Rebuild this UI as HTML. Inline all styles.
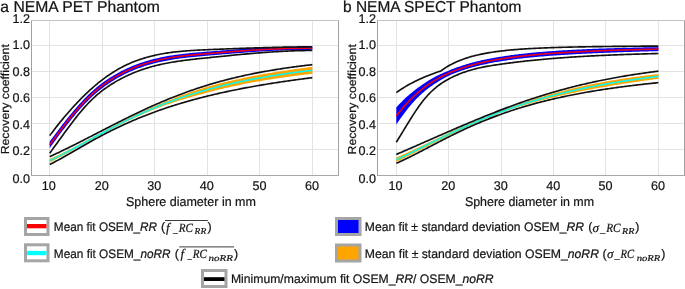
<!DOCTYPE html>
<html><head><meta charset="utf-8"><style>
html,body{margin:0;padding:0;background:#fff;}
svg{display:block;}
text{fill:#141414;text-rendering:geometricPrecision;stroke:#141414;stroke-width:0.22px;}
</style></head><body>
<svg xmlns="http://www.w3.org/2000/svg" width="685" height="289" viewBox="0 0 685 289">
<rect width="685" height="289" fill="#fff"/>
<line x1="49.5" y1="20.5" x2="49.5" y2="175.5" stroke="#e3e3e3" stroke-width="1"/>
<line x1="102.5" y1="20.5" x2="102.5" y2="175.5" stroke="#e3e3e3" stroke-width="1"/>
<line x1="154.5" y1="20.5" x2="154.5" y2="175.5" stroke="#e3e3e3" stroke-width="1"/>
<line x1="207.5" y1="20.5" x2="207.5" y2="175.5" stroke="#e3e3e3" stroke-width="1"/>
<line x1="259.5" y1="20.5" x2="259.5" y2="175.5" stroke="#e3e3e3" stroke-width="1"/>
<line x1="312.5" y1="20.5" x2="312.5" y2="175.5" stroke="#e3e3e3" stroke-width="1"/>
<line x1="31.5" y1="149.5" x2="338.5" y2="149.5" stroke="#e3e3e3" stroke-width="1"/>
<line x1="31.5" y1="123.5" x2="338.5" y2="123.5" stroke="#e3e3e3" stroke-width="1"/>
<line x1="31.5" y1="97.5" x2="338.5" y2="97.5" stroke="#e3e3e3" stroke-width="1"/>
<line x1="31.5" y1="71.5" x2="338.5" y2="71.5" stroke="#e3e3e3" stroke-width="1"/>
<line x1="31.5" y1="45.5" x2="338.5" y2="45.5" stroke="#e3e3e3" stroke-width="1"/>
<line x1="31.5" y1="20.5" x2="338.5" y2="20.5" stroke="#c4c4c4" stroke-width="1"/>
<line x1="338.5" y1="20.5" x2="338.5" y2="175.5" stroke="#a0a0a0" stroke-width="1"/>
<line x1="31.5" y1="20.5" x2="31.5" y2="176.0" stroke="#a0a0a0" stroke-width="1"/>
<line x1="31.5" y1="175.5" x2="339.0" y2="175.5" stroke="#a8a8a8" stroke-width="1"/>
<path d="M49.70,141.46 L51.01,139.70 L52.33,137.93 L53.64,136.18 L54.95,134.43 L56.27,132.68 L57.58,130.95 L58.89,129.22 L60.20,127.51 L61.52,125.80 L62.83,124.11 L64.14,122.43 L65.46,120.76 L66.77,119.11 L68.08,117.47 L69.40,115.85 L70.71,114.24 L72.02,112.66 L73.33,111.09 L74.65,109.54 L75.96,108.01 L77.27,106.51 L78.59,105.03 L79.90,103.57 L81.21,102.14 L82.53,100.73 L83.84,99.35 L85.15,97.99 L86.46,96.66 L87.78,95.37 L89.09,94.10 L90.40,92.86 L91.72,91.66 L93.03,90.48 L94.34,89.33 L95.66,88.21 L96.97,87.12 L98.28,86.06 L99.59,85.02 L100.91,84.01 L102.22,83.02 L103.53,82.06 L104.85,81.12 L106.16,80.21 L107.47,79.32 L108.78,78.45 L110.10,77.60 L111.41,76.77 L112.72,75.97 L114.04,75.18 L115.35,74.41 L116.66,73.66 L117.98,72.93 L119.29,72.22 L120.60,71.52 L121.92,70.85 L123.23,70.19 L124.54,69.54 L125.85,68.92 L127.17,68.31 L128.48,67.71 L129.79,67.13 L131.11,66.57 L132.42,66.02 L133.73,65.49 L135.05,64.97 L136.36,64.47 L137.67,63.98 L138.98,63.50 L140.30,63.04 L141.61,62.59 L142.92,62.16 L144.24,61.74 L145.55,61.33 L146.86,60.93 L148.18,60.55 L149.49,60.17 L150.80,59.81 L152.11,59.46 L153.43,59.12 L154.74,58.80 L156.05,58.48 L157.37,58.17 L158.68,57.88 L159.99,57.59 L161.31,57.31 L162.62,57.05 L163.93,56.79 L165.24,56.54 L166.56,56.30 L167.87,56.06 L169.18,55.84 L170.50,55.62 L171.81,55.41 L173.12,55.21 L174.44,55.01 L175.75,54.82 L177.06,54.64 L178.37,54.46 L179.69,54.29 L181.00,54.13 L182.31,53.97 L183.63,53.81 L184.94,53.66 L186.25,53.52 L187.56,53.38 L188.88,53.24 L190.19,53.11 L191.50,52.98 L192.82,52.85 L194.13,52.73 L195.44,52.61 L196.76,52.49 L198.07,52.37 L199.38,52.26 L200.69,52.15 L202.01,52.04 L203.32,51.93 L204.63,51.82 L205.95,51.71 L207.26,51.60 L208.57,51.49 L209.89,51.39 L211.20,51.28 L212.51,51.17 L213.82,51.07 L215.14,50.96 L216.45,50.86 L217.76,50.75 L219.08,50.65 L220.39,50.54 L221.70,50.44 L223.02,50.33 L224.33,50.23 L225.64,50.13 L226.95,50.03 L228.27,49.93 L229.58,49.83 L230.89,49.73 L232.21,49.63 L233.52,49.53 L234.83,49.44 L236.15,49.34 L237.46,49.25 L238.77,49.15 L240.08,49.06 L241.40,48.97 L242.71,48.88 L244.02,48.79 L245.34,48.70 L246.65,48.61 L247.96,48.53 L249.28,48.44 L250.59,48.36 L251.90,48.28 L253.21,48.20 L254.53,48.12 L255.84,48.05 L257.15,47.97 L258.47,47.90 L259.78,47.82 L261.09,47.75 L262.41,47.69 L263.72,47.62 L265.03,47.55 L266.34,47.49 L267.66,47.43 L268.97,47.37 L270.28,47.31 L271.60,47.26 L272.91,47.20 L274.22,47.15 L275.54,47.10 L276.85,47.06 L278.16,47.01 L279.47,46.97 L280.79,46.93 L282.10,46.89 L283.41,46.86 L284.73,46.82 L286.04,46.79 L287.35,46.76 L288.67,46.74 L289.98,46.71 L291.29,46.69 L292.61,46.67 L293.92,46.66 L295.23,46.65 L296.54,46.64 L297.86,46.63 L299.17,46.62 L300.48,46.62 L301.80,46.62 L303.11,46.63 L304.42,46.63 L305.73,46.64 L307.05,46.66 L308.36,46.67 L309.67,46.69 L310.99,46.72 L312.30,46.74 L312.30,49.88 L310.99,49.87 L309.67,49.88 L308.36,49.88 L307.05,49.88 L305.73,49.89 L304.42,49.90 L303.11,49.92 L301.80,49.93 L300.48,49.95 L299.17,49.97 L297.86,50.00 L296.54,50.02 L295.23,50.05 L293.92,50.08 L292.61,50.12 L291.29,50.15 L289.98,50.19 L288.67,50.23 L287.35,50.27 L286.04,50.32 L284.73,50.36 L283.41,50.41 L282.10,50.46 L280.79,50.52 L279.47,50.57 L278.16,50.63 L276.85,50.69 L275.54,50.75 L274.22,50.81 L272.91,50.87 L271.60,50.94 L270.28,51.01 L268.97,51.08 L267.66,51.15 L266.34,51.22 L265.03,51.30 L263.72,51.37 L262.41,51.45 L261.09,51.53 L259.78,51.61 L258.47,51.69 L257.15,51.78 L255.84,51.86 L254.53,51.95 L253.21,52.04 L251.90,52.13 L250.59,52.22 L249.28,52.31 L247.96,52.40 L246.65,52.49 L245.34,52.59 L244.02,52.69 L242.71,52.78 L241.40,52.88 L240.08,52.98 L238.77,53.08 L237.46,53.18 L236.15,53.29 L234.83,53.39 L233.52,53.49 L232.21,53.60 L230.89,53.70 L229.58,53.81 L228.27,53.92 L226.95,54.02 L225.64,54.13 L224.33,54.24 L223.02,54.35 L221.70,54.46 L220.39,54.57 L219.08,54.68 L217.76,54.79 L216.45,54.91 L215.14,55.02 L213.82,55.13 L212.51,55.24 L211.20,55.36 L209.89,55.47 L208.57,55.58 L207.26,55.70 L205.95,55.81 L204.63,55.93 L203.32,56.04 L202.01,56.16 L200.69,56.28 L199.38,56.40 L198.07,56.52 L196.76,56.64 L195.44,56.76 L194.13,56.89 L192.82,57.02 L191.50,57.16 L190.19,57.29 L188.88,57.43 L187.56,57.58 L186.25,57.73 L184.94,57.88 L183.63,58.04 L182.31,58.20 L181.00,58.37 L179.69,58.54 L178.37,58.72 L177.06,58.90 L175.75,59.10 L174.44,59.29 L173.12,59.50 L171.81,59.71 L170.50,59.93 L169.18,60.16 L167.87,60.39 L166.56,60.64 L165.24,60.89 L163.93,61.15 L162.62,61.42 L161.31,61.70 L159.99,61.98 L158.68,62.28 L157.37,62.59 L156.05,62.91 L154.74,63.24 L153.43,63.58 L152.11,63.93 L150.80,64.29 L149.49,64.66 L148.18,65.05 L146.86,65.45 L145.55,65.86 L144.24,66.28 L142.92,66.72 L141.61,67.17 L140.30,67.63 L138.98,68.11 L137.67,68.60 L136.36,69.10 L135.05,69.62 L133.73,70.16 L132.42,70.71 L131.11,71.27 L129.79,71.85 L128.48,72.45 L127.17,73.06 L125.85,73.69 L124.54,74.34 L123.23,75.00 L121.92,75.68 L120.60,76.38 L119.29,77.10 L117.98,77.83 L116.66,78.59 L115.35,79.36 L114.04,80.15 L112.72,80.96 L111.41,81.79 L110.10,82.64 L108.78,83.51 L107.47,84.40 L106.16,85.32 L104.85,86.26 L103.53,87.22 L102.22,88.21 L100.91,89.22 L99.59,90.26 L98.28,91.33 L96.97,92.42 L95.66,93.54 L94.34,94.69 L93.03,95.87 L91.72,97.08 L90.40,98.31 L89.09,99.58 L87.78,100.88 L86.46,102.21 L85.15,103.57 L83.84,104.96 L82.53,106.38 L81.21,107.82 L79.90,109.29 L78.59,110.79 L77.27,112.31 L75.96,113.85 L74.65,115.41 L73.33,117.00 L72.02,118.61 L70.71,120.23 L69.40,121.88 L68.08,123.54 L66.77,125.22 L65.46,126.91 L64.14,128.63 L62.83,130.35 L61.52,132.09 L60.20,133.84 L58.89,135.60 L57.58,137.37 L56.27,139.16 L54.95,140.95 L53.64,142.75 L52.33,144.55 L51.01,146.36 L49.70,148.18Z" fill="#0000ff"/>
<path d="M49.70,158.92 L51.01,158.35 L52.33,157.76 L53.64,157.17 L54.95,156.57 L56.27,155.96 L57.58,155.35 L58.89,154.73 L60.20,154.10 L61.52,153.46 L62.83,152.82 L64.14,152.18 L65.46,151.52 L66.77,150.87 L68.08,150.20 L69.40,149.54 L70.71,148.86 L72.02,148.19 L73.33,147.51 L74.65,146.83 L75.96,146.14 L77.27,145.45 L78.59,144.76 L79.90,144.06 L81.21,143.37 L82.53,142.67 L83.84,141.97 L85.15,141.26 L86.46,140.56 L87.78,139.85 L89.09,139.15 L90.40,138.44 L91.72,137.73 L93.03,137.03 L94.34,136.32 L95.66,135.61 L96.97,134.90 L98.28,134.19 L99.59,133.49 L100.91,132.78 L102.22,132.07 L103.53,131.37 L104.85,130.67 L106.16,129.96 L107.47,129.26 L108.78,128.57 L110.10,127.87 L111.41,127.18 L112.72,126.48 L114.04,125.80 L115.35,125.11 L116.66,124.42 L117.98,123.74 L119.29,123.07 L120.60,122.39 L121.92,121.72 L123.23,121.05 L124.54,120.39 L125.85,119.72 L127.17,119.07 L128.48,118.41 L129.79,117.76 L131.11,117.12 L132.42,116.47 L133.73,115.84 L135.05,115.20 L136.36,114.57 L137.67,113.95 L138.98,113.32 L140.30,112.71 L141.61,112.10 L142.92,111.49 L144.24,110.89 L145.55,110.29 L146.86,109.69 L148.18,109.10 L149.49,108.52 L150.80,107.94 L152.11,107.37 L153.43,106.80 L154.74,106.23 L156.05,105.67 L157.37,105.11 L158.68,104.55 L159.99,104.00 L161.31,103.45 L162.62,102.90 L163.93,102.35 L165.24,101.81 L166.56,101.27 L167.87,100.73 L169.18,100.20 L170.50,99.67 L171.81,99.15 L173.12,98.63 L174.44,98.11 L175.75,97.60 L177.06,97.09 L178.37,96.58 L179.69,96.08 L181.00,95.59 L182.31,95.10 L183.63,94.61 L184.94,94.13 L186.25,93.65 L187.56,93.18 L188.88,92.72 L190.19,92.26 L191.50,91.80 L192.82,91.35 L194.13,90.91 L195.44,90.47 L196.76,90.04 L198.07,89.62 L199.38,89.20 L200.69,88.79 L202.01,88.38 L203.32,87.98 L204.63,87.59 L205.95,87.20 L207.26,86.82 L208.57,86.45 L209.89,86.08 L211.20,85.72 L212.51,85.36 L213.82,85.00 L215.14,84.65 L216.45,84.30 L217.76,83.96 L219.08,83.62 L220.39,83.28 L221.70,82.95 L223.02,82.62 L224.33,82.30 L225.64,81.97 L226.95,81.66 L228.27,81.34 L229.58,81.03 L230.89,80.73 L232.21,80.42 L233.52,80.12 L234.83,79.83 L236.15,79.53 L237.46,79.24 L238.77,78.96 L240.08,78.67 L241.40,78.39 L242.71,78.11 L244.02,77.84 L245.34,77.57 L246.65,77.30 L247.96,77.03 L249.28,76.77 L250.59,76.51 L251.90,76.25 L253.21,75.99 L254.53,75.74 L255.84,75.49 L257.15,75.24 L258.47,75.00 L259.78,74.75 L261.09,74.51 L262.41,74.27 L263.72,74.04 L265.03,73.80 L266.34,73.57 L267.66,73.34 L268.97,73.12 L270.28,72.89 L271.60,72.67 L272.91,72.45 L274.22,72.24 L275.54,72.02 L276.85,71.81 L278.16,71.60 L279.47,71.39 L280.79,71.18 L282.10,70.98 L283.41,70.78 L284.73,70.58 L286.04,70.38 L287.35,70.18 L288.67,69.99 L289.98,69.80 L291.29,69.61 L292.61,69.42 L293.92,69.23 L295.23,69.05 L296.54,68.87 L297.86,68.69 L299.17,68.51 L300.48,68.33 L301.80,68.15 L303.11,67.98 L304.42,67.81 L305.73,67.64 L307.05,67.47 L308.36,67.30 L309.67,67.14 L310.99,66.97 L312.30,66.81 L312.30,73.81 L310.99,73.96 L309.67,74.11 L308.36,74.26 L307.05,74.41 L305.73,74.56 L304.42,74.72 L303.11,74.88 L301.80,75.03 L300.48,75.19 L299.17,75.36 L297.86,75.52 L296.54,75.69 L295.23,75.85 L293.92,76.02 L292.61,76.19 L291.29,76.37 L289.98,76.54 L288.67,76.72 L287.35,76.90 L286.04,77.08 L284.73,77.26 L283.41,77.45 L282.10,77.63 L280.79,77.82 L279.47,78.01 L278.16,78.21 L276.85,78.40 L275.54,78.60 L274.22,78.80 L272.91,79.00 L271.60,79.21 L270.28,79.41 L268.97,79.62 L267.66,79.83 L266.34,80.05 L265.03,80.26 L263.72,80.48 L262.41,80.70 L261.09,80.93 L259.78,81.15 L258.47,81.38 L257.15,81.61 L255.84,81.85 L254.53,82.08 L253.21,82.32 L251.90,82.57 L250.59,82.81 L249.28,83.06 L247.96,83.31 L246.65,83.57 L245.34,83.82 L244.02,84.08 L242.71,84.35 L241.40,84.61 L240.08,84.88 L238.77,85.15 L237.46,85.43 L236.15,85.71 L234.83,85.99 L233.52,86.27 L232.21,86.56 L230.89,86.85 L229.58,87.14 L228.27,87.44 L226.95,87.74 L225.64,88.04 L224.33,88.35 L223.02,88.66 L221.70,88.97 L220.39,89.29 L219.08,89.60 L217.76,89.93 L216.45,90.25 L215.14,90.58 L213.82,90.91 L212.51,91.25 L211.20,91.59 L209.89,91.93 L208.57,92.28 L207.26,92.62 L205.95,92.98 L204.63,93.33 L203.32,93.68 L202.01,94.04 L200.69,94.39 L199.38,94.75 L198.07,95.11 L196.76,95.47 L195.44,95.84 L194.13,96.20 L192.82,96.57 L191.50,96.95 L190.19,97.32 L188.88,97.70 L187.56,98.08 L186.25,98.47 L184.94,98.86 L183.63,99.25 L182.31,99.65 L181.00,100.05 L179.69,100.45 L178.37,100.86 L177.06,101.28 L175.75,101.70 L174.44,102.12 L173.12,102.55 L171.81,102.99 L170.50,103.43 L169.18,103.88 L167.87,104.33 L166.56,104.79 L165.24,105.26 L163.93,105.73 L162.62,106.21 L161.31,106.70 L159.99,107.19 L158.68,107.69 L157.37,108.19 L156.05,108.71 L154.74,109.23 L153.43,109.76 L152.11,110.29 L150.80,110.83 L149.49,111.37 L148.18,111.92 L146.86,112.47 L145.55,113.03 L144.24,113.59 L142.92,114.16 L141.61,114.73 L140.30,115.31 L138.98,115.89 L137.67,116.48 L136.36,117.07 L135.05,117.67 L133.73,118.27 L132.42,118.88 L131.11,119.49 L129.79,120.11 L128.48,120.73 L127.17,121.35 L125.85,121.98 L124.54,122.62 L123.23,123.26 L121.92,123.91 L120.60,124.55 L119.29,125.21 L117.98,125.87 L116.66,126.53 L115.35,127.20 L114.04,127.87 L112.72,128.54 L111.41,129.22 L110.10,129.90 L108.78,130.59 L107.47,131.28 L106.16,131.97 L104.85,132.67 L103.53,133.37 L102.22,134.07 L100.91,134.78 L99.59,135.49 L98.28,136.20 L96.97,136.92 L95.66,137.64 L94.34,138.36 L93.03,139.08 L91.72,139.80 L90.40,140.53 L89.09,141.25 L87.78,141.98 L86.46,142.71 L85.15,143.44 L83.84,144.17 L82.53,144.90 L81.21,145.63 L79.90,146.36 L78.59,147.09 L77.27,147.82 L75.96,148.55 L74.65,149.27 L73.33,150.00 L72.02,150.72 L70.71,151.44 L69.40,152.16 L68.08,152.87 L66.77,153.59 L65.46,154.29 L64.14,155.00 L62.83,155.70 L61.52,156.40 L60.20,157.09 L58.89,157.78 L57.58,158.46 L56.27,159.14 L54.95,159.81 L53.64,160.47 L52.33,161.13 L51.01,161.78 L49.70,162.42Z" fill="#ffa500"/>
<path d="M49.70,144.82 L51.01,143.03 L52.33,141.24 L53.64,139.46 L54.95,137.69 L56.27,135.92 L57.58,134.16 L58.89,132.41 L60.20,130.67 L61.52,128.95 L62.83,127.23 L64.14,125.53 L65.46,123.84 L66.77,122.16 L68.08,120.50 L69.40,118.86 L70.71,117.24 L72.02,115.63 L73.33,114.04 L74.65,112.48 L75.96,110.93 L77.27,109.41 L78.59,107.91 L79.90,106.43 L81.21,104.98 L82.53,103.55 L83.84,102.15 L85.15,100.78 L86.46,99.44 L87.78,98.13 L89.09,96.84 L90.40,95.59 L91.72,94.37 L93.03,93.17 L94.34,92.01 L95.66,90.88 L96.97,89.77 L98.28,88.69 L99.59,87.64 L100.91,86.62 L102.22,85.62 L103.53,84.64 L104.85,83.69 L106.16,82.76 L107.47,81.86 L108.78,80.98 L110.10,80.12 L111.41,79.28 L112.72,78.46 L114.04,77.66 L115.35,76.88 L116.66,76.12 L117.98,75.38 L119.29,74.66 L120.60,73.95 L121.92,73.27 L123.23,72.60 L124.54,71.94 L125.85,71.30 L127.17,70.68 L128.48,70.08 L129.79,69.49 L131.11,68.92 L132.42,68.36 L133.73,67.82 L135.05,67.30 L136.36,66.78 L137.67,66.29 L138.98,65.80 L140.30,65.34 L141.61,64.88 L142.92,64.44 L144.24,64.01 L145.55,63.59 L146.86,63.19 L148.18,62.80 L149.49,62.42 L150.80,62.05 L152.11,61.70 L153.43,61.35 L154.74,61.02 L156.05,60.69 L157.37,60.38 L158.68,60.08 L159.99,59.79 L161.31,59.50 L162.62,59.23 L163.93,58.97 L165.24,58.71 L166.56,58.47 L167.87,58.23 L169.18,58.00 L170.50,57.78 L171.81,57.56 L173.12,57.35 L174.44,57.15 L175.75,56.96 L177.06,56.77 L178.37,56.59 L179.69,56.42 L181.00,56.25 L182.31,56.08 L183.63,55.92 L184.94,55.77 L186.25,55.62 L187.56,55.48 L188.88,55.34 L190.19,55.20 L191.50,55.07 L192.82,54.94 L194.13,54.81 L195.44,54.68 L196.76,54.56 L198.07,54.44 L199.38,54.33 L200.69,54.21 L202.01,54.10 L203.32,53.98 L204.63,53.87 L205.95,53.76 L207.26,53.65 L208.57,53.54 L209.89,53.43 L211.20,53.32 L212.51,53.21 L213.82,53.10 L215.14,52.99 L216.45,52.88 L217.76,52.77 L219.08,52.66 L220.39,52.56 L221.70,52.45 L223.02,52.34 L224.33,52.24 L225.64,52.13 L226.95,52.03 L228.27,51.92 L229.58,51.82 L230.89,51.72 L232.21,51.61 L233.52,51.51 L234.83,51.41 L236.15,51.31 L237.46,51.21 L238.77,51.12 L240.08,51.02 L241.40,50.92 L242.71,50.83 L244.02,50.74 L245.34,50.65 L246.65,50.55 L247.96,50.46 L249.28,50.38 L250.59,50.29 L251.90,50.20 L253.21,50.12 L254.53,50.04 L255.84,49.95 L257.15,49.87 L258.47,49.80 L259.78,49.72 L261.09,49.64 L262.41,49.57 L263.72,49.50 L265.03,49.43 L266.34,49.36 L267.66,49.29 L268.97,49.22 L270.28,49.16 L271.60,49.10 L272.91,49.04 L274.22,48.98 L275.54,48.93 L276.85,48.87 L278.16,48.82 L279.47,48.77 L280.79,48.72 L282.10,48.68 L283.41,48.63 L284.73,48.59 L286.04,48.55 L287.35,48.52 L288.67,48.48 L289.98,48.45 L291.29,48.42 L292.61,48.40 L293.92,48.37 L295.23,48.35 L296.54,48.33 L297.86,48.31 L299.17,48.30 L300.48,48.29 L301.80,48.28 L303.11,48.27 L304.42,48.27 L305.73,48.27 L307.05,48.27 L308.36,48.28 L309.67,48.28 L310.99,48.30 L312.30,48.31" fill="none" stroke="#ff0000" stroke-width="1.65" stroke-opacity="0.9"/>
<path d="M49.70,160.67 L51.01,160.06 L52.33,159.45 L53.64,158.82 L54.95,158.19 L56.27,157.55 L57.58,156.90 L58.89,156.25 L60.20,155.59 L61.52,154.93 L62.83,154.26 L64.14,153.59 L65.46,152.91 L66.77,152.23 L68.08,151.54 L69.40,150.85 L70.71,150.15 L72.02,149.45 L73.33,148.75 L74.65,148.05 L75.96,147.34 L77.27,146.63 L78.59,145.92 L79.90,145.21 L81.21,144.50 L82.53,143.78 L83.84,143.07 L85.15,142.35 L86.46,141.63 L87.78,140.92 L89.09,140.20 L90.40,139.48 L91.72,138.77 L93.03,138.05 L94.34,137.34 L95.66,136.62 L96.97,135.91 L98.28,135.20 L99.59,134.49 L100.91,133.78 L102.22,133.07 L103.53,132.37 L104.85,131.67 L106.16,130.97 L107.47,130.27 L108.78,129.58 L110.10,128.89 L111.41,128.20 L112.72,127.51 L114.04,126.83 L115.35,126.15 L116.66,125.48 L117.98,124.80 L119.29,124.14 L120.60,123.47 L121.92,122.81 L123.23,122.16 L124.54,121.50 L125.85,120.85 L127.17,120.21 L128.48,119.57 L129.79,118.93 L131.11,118.30 L132.42,117.68 L133.73,117.05 L135.05,116.43 L136.36,115.82 L137.67,115.21 L138.98,114.61 L140.30,114.01 L141.61,113.41 L142.92,112.82 L144.24,112.24 L145.55,111.66 L146.86,111.08 L148.18,110.51 L149.49,109.95 L150.80,109.38 L152.11,108.83 L153.43,108.28 L154.74,107.73 L156.05,107.19 L157.37,106.65 L158.68,106.12 L159.99,105.59 L161.31,105.07 L162.62,104.55 L163.93,104.04 L165.24,103.53 L166.56,103.03 L167.87,102.53 L169.18,102.04 L170.50,101.55 L171.81,101.07 L173.12,100.59 L174.44,100.12 L175.75,99.65 L177.06,99.18 L178.37,98.72 L179.69,98.27 L181.00,97.82 L182.31,97.37 L183.63,96.93 L184.94,96.49 L186.25,96.06 L187.56,95.63 L188.88,95.21 L190.19,94.79 L191.50,94.37 L192.82,93.96 L194.13,93.56 L195.44,93.16 L196.76,92.76 L198.07,92.36 L199.38,91.97 L200.69,91.59 L202.01,91.21 L203.32,90.83 L204.63,90.46 L205.95,90.09 L207.26,89.72 L208.57,89.36 L209.89,89.01 L211.20,88.65 L212.51,88.30 L213.82,87.96 L215.14,87.62 L216.45,87.28 L217.76,86.94 L219.08,86.61 L220.39,86.28 L221.70,85.96 L223.02,85.64 L224.33,85.32 L225.64,85.01 L226.95,84.70 L228.27,84.39 L229.58,84.09 L230.89,83.79 L232.21,83.49 L233.52,83.20 L234.83,82.91 L236.15,82.62 L237.46,82.34 L238.77,82.05 L240.08,81.78 L241.40,81.50 L242.71,81.23 L244.02,80.96 L245.34,80.69 L246.65,80.43 L247.96,80.17 L249.28,79.91 L250.59,79.66 L251.90,79.41 L253.21,79.16 L254.53,78.91 L255.84,78.67 L257.15,78.43 L258.47,78.19 L259.78,77.95 L261.09,77.72 L262.41,77.49 L263.72,77.26 L265.03,77.03 L266.34,76.81 L267.66,76.59 L268.97,76.37 L270.28,76.15 L271.60,75.94 L272.91,75.73 L274.22,75.52 L275.54,75.31 L276.85,75.11 L278.16,74.90 L279.47,74.70 L280.79,74.50 L282.10,74.31 L283.41,74.11 L284.73,73.92 L286.04,73.73 L287.35,73.54 L288.67,73.35 L289.98,73.17 L291.29,72.99 L292.61,72.81 L293.92,72.63 L295.23,72.45 L296.54,72.28 L297.86,72.10 L299.17,71.93 L300.48,71.76 L301.80,71.59 L303.11,71.43 L304.42,71.26 L305.73,71.10 L307.05,70.94 L308.36,70.78 L309.67,70.62 L310.99,70.47 L312.30,70.31" fill="none" stroke="#14f5e6" stroke-width="1.7"/>
<path d="M49.70,135.62 L51.01,133.87 L52.33,132.13 L53.64,130.42 L54.95,128.72 L56.27,127.03 L57.58,125.37 L58.89,123.72 L60.20,122.09 L61.52,120.48 L62.83,118.89 L64.14,117.31 L65.46,115.76 L66.77,114.22 L68.08,112.70 L69.40,111.19 L70.71,109.71 L72.02,108.24 L73.33,106.80 L74.65,105.37 L75.96,103.96 L77.27,102.57 L78.59,101.20 L79.90,99.84 L81.21,98.51 L82.53,97.20 L83.84,95.90 L85.15,94.63 L86.46,93.37 L87.78,92.13 L89.09,90.92 L90.40,89.72 L91.72,88.54 L93.03,87.39 L94.34,86.25 L95.66,85.13 L96.97,84.04 L98.28,82.96 L99.59,81.91 L100.91,80.87 L102.22,79.86 L103.53,78.87 L104.85,77.89 L106.16,76.94 L107.47,76.01 L108.78,75.10 L110.10,74.21 L111.41,73.35 L112.72,72.50 L114.04,71.68 L115.35,70.87 L116.66,70.09 L117.98,69.33 L119.29,68.59 L120.60,67.88 L121.92,67.18 L123.23,66.50 L124.54,65.84 L125.85,65.20 L127.17,64.58 L128.48,63.98 L129.79,63.40 L131.11,62.83 L132.42,62.28 L133.73,61.75 L135.05,61.24 L136.36,60.74 L137.67,60.26 L138.98,59.80 L140.30,59.35 L141.61,58.91 L142.92,58.49 L144.24,58.09 L145.55,57.70 L146.86,57.32 L148.18,56.96 L149.49,56.61 L150.80,56.27 L152.11,55.94 L153.43,55.63 L154.74,55.33 L156.05,55.04 L157.37,54.76 L158.68,54.49 L159.99,54.24 L161.31,53.99 L162.62,53.75 L163.93,53.53 L165.24,53.31 L166.56,53.10 L167.87,52.90 L169.18,52.71 L170.50,52.53 L171.81,52.36 L173.12,52.19 L174.44,52.03 L175.75,51.88 L177.06,51.73 L178.37,51.60 L179.69,51.47 L181.00,51.34 L182.31,51.22 L183.63,51.11 L184.94,51.00 L186.25,50.90 L187.56,50.80 L188.88,50.71 L190.19,50.62 L191.50,50.53 L192.82,50.45 L194.13,50.37 L195.44,50.30 L196.76,50.23 L198.07,50.16 L199.38,50.09 L200.69,50.03 L202.01,49.96 L203.32,49.90 L204.63,49.84 L205.95,49.78 L207.26,49.72 L208.57,49.67 L209.89,49.61 L211.20,49.55 L212.51,49.49 L213.82,49.44 L215.14,49.38 L216.45,49.33 L217.76,49.27 L219.08,49.22 L220.39,49.16 L221.70,49.11 L223.02,49.06 L224.33,49.00 L225.64,48.95 L226.95,48.90 L228.27,48.85 L229.58,48.80 L230.89,48.75 L232.21,48.70 L233.52,48.65 L234.83,48.60 L236.15,48.55 L237.46,48.50 L238.77,48.46 L240.08,48.41 L241.40,48.36 L242.71,48.32 L244.02,48.27 L245.34,48.23 L246.65,48.18 L247.96,48.14 L249.28,48.10 L250.59,48.06 L251.90,48.01 L253.21,47.97 L254.53,47.93 L255.84,47.89 L257.15,47.85 L258.47,47.81 L259.78,47.78 L261.09,47.74 L262.41,47.70 L263.72,47.66 L265.03,47.63 L266.34,47.59 L267.66,47.56 L268.97,47.52 L270.28,47.49 L271.60,47.46 L272.91,47.43 L274.22,47.39 L275.54,47.36 L276.85,47.33 L278.16,47.30 L279.47,47.27 L280.79,47.25 L282.10,47.22 L283.41,47.19 L284.73,47.17 L286.04,47.14 L287.35,47.12 L288.67,47.09 L289.98,47.07 L291.29,47.04 L292.61,47.02 L293.92,47.00 L295.23,46.98 L296.54,46.96 L297.86,46.94 L299.17,46.92 L300.48,46.90 L301.80,46.89 L303.11,46.87 L304.42,46.85 L305.73,46.84 L307.05,46.83 L308.36,46.81 L309.67,46.80 L310.99,46.79 L312.30,46.78" fill="none" stroke="#111" stroke-width="1.65"/>
<path d="M49.70,153.21 L51.01,151.43 L52.33,149.63 L53.64,147.83 L54.95,146.03 L56.27,144.22 L57.58,142.40 L58.89,140.58 L60.20,138.77 L61.52,136.95 L62.83,135.15 L64.14,133.34 L65.46,131.54 L66.77,129.76 L68.08,127.98 L69.40,126.21 L70.71,124.46 L72.02,122.73 L73.33,121.01 L74.65,119.31 L75.96,117.63 L77.27,115.98 L78.59,114.35 L79.90,112.75 L81.21,111.17 L82.53,109.62 L83.84,108.11 L85.15,106.63 L86.46,105.18 L87.78,103.77 L89.09,102.40 L90.40,101.07 L91.72,99.77 L93.03,98.52 L94.34,97.30 L95.66,96.11 L96.97,94.96 L98.28,93.85 L99.59,92.77 L100.91,91.71 L102.22,90.69 L103.53,89.70 L104.85,88.74 L106.16,87.80 L107.47,86.89 L108.78,86.00 L110.10,85.14 L111.41,84.30 L112.72,83.48 L114.04,82.68 L115.35,81.90 L116.66,81.14 L117.98,80.40 L119.29,79.68 L120.60,78.97 L121.92,78.28 L123.23,77.61 L124.54,76.95 L125.85,76.31 L127.17,75.69 L128.48,75.08 L129.79,74.49 L131.11,73.91 L132.42,73.35 L133.73,72.81 L135.05,72.27 L136.36,71.76 L137.67,71.25 L138.98,70.76 L140.30,70.29 L141.61,69.83 L142.92,69.38 L144.24,68.94 L145.55,68.52 L146.86,68.10 L148.18,67.70 L149.49,67.32 L150.80,66.94 L152.11,66.57 L153.43,66.22 L154.74,65.88 L156.05,65.54 L157.37,65.22 L158.68,64.91 L159.99,64.60 L161.31,64.31 L162.62,64.02 L163.93,63.74 L165.24,63.48 L166.56,63.22 L167.87,62.97 L169.18,62.72 L170.50,62.48 L171.81,62.26 L173.12,62.03 L174.44,61.82 L175.75,61.61 L177.06,61.40 L178.37,61.21 L179.69,61.02 L181.00,60.83 L182.31,60.65 L183.63,60.47 L184.94,60.30 L186.25,60.13 L187.56,59.97 L188.88,59.81 L190.19,59.66 L191.50,59.50 L192.82,59.35 L194.13,59.21 L195.44,59.06 L196.76,58.92 L198.07,58.78 L199.38,58.64 L200.69,58.50 L202.01,58.37 L203.32,58.23 L204.63,58.10 L205.95,57.96 L207.26,57.83 L208.57,57.70 L209.89,57.56 L211.20,57.43 L212.51,57.29 L213.82,57.16 L215.14,57.02 L216.45,56.89 L217.76,56.76 L219.08,56.62 L220.39,56.49 L221.70,56.35 L223.02,56.22 L224.33,56.09 L225.64,55.96 L226.95,55.83 L228.27,55.69 L229.58,55.56 L230.89,55.43 L232.21,55.30 L233.52,55.18 L234.83,55.05 L236.15,54.92 L237.46,54.79 L238.77,54.67 L240.08,54.54 L241.40,54.42 L242.71,54.30 L244.02,54.18 L245.34,54.06 L246.65,53.94 L247.96,53.82 L249.28,53.70 L250.59,53.59 L251.90,53.48 L253.21,53.36 L254.53,53.25 L255.84,53.14 L257.15,53.03 L258.47,52.93 L259.78,52.82 L261.09,52.72 L262.41,52.62 L263.72,52.52 L265.03,52.42 L266.34,52.33 L267.66,52.23 L268.97,52.14 L270.28,52.05 L271.60,51.96 L272.91,51.88 L274.22,51.79 L275.54,51.71 L276.85,51.63 L278.16,51.56 L279.47,51.48 L280.79,51.41 L282.10,51.34 L283.41,51.27 L284.73,51.21 L286.04,51.14 L287.35,51.09 L288.67,51.03 L289.98,50.97 L291.29,50.92 L292.61,50.87 L293.92,50.83 L295.23,50.78 L296.54,50.74 L297.86,50.71 L299.17,50.67 L300.48,50.64 L301.80,50.61 L303.11,50.59 L304.42,50.57 L305.73,50.55 L307.05,50.54 L308.36,50.52 L309.67,50.52 L310.99,50.51 L312.30,50.51" fill="none" stroke="#111" stroke-width="1.65"/>
<path d="M49.70,156.68 L51.01,156.08 L52.33,155.47 L53.64,154.86 L54.95,154.24 L56.27,153.62 L57.58,153.00 L58.89,152.38 L60.20,151.75 L61.52,151.11 L62.83,150.48 L64.14,149.84 L65.46,149.20 L66.77,148.55 L68.08,147.91 L69.40,147.26 L70.71,146.61 L72.02,145.95 L73.33,145.29 L74.65,144.64 L75.96,143.97 L77.27,143.31 L78.59,142.65 L79.90,141.98 L81.21,141.31 L82.53,140.65 L83.84,139.98 L85.15,139.30 L86.46,138.63 L87.78,137.96 L89.09,137.28 L90.40,136.61 L91.72,135.93 L93.03,135.26 L94.34,134.58 L95.66,133.91 L96.97,133.23 L98.28,132.55 L99.59,131.88 L100.91,131.20 L102.22,130.52 L103.53,129.85 L104.85,129.17 L106.16,128.50 L107.47,127.82 L108.78,127.15 L110.10,126.48 L111.41,125.81 L112.72,125.14 L114.04,124.47 L115.35,123.80 L116.66,123.14 L117.98,122.47 L119.29,121.81 L120.60,121.15 L121.92,120.49 L123.23,119.84 L124.54,119.18 L125.85,118.53 L127.17,117.88 L128.48,117.23 L129.79,116.59 L131.11,115.95 L132.42,115.31 L133.73,114.67 L135.05,114.04 L136.36,113.41 L137.67,112.78 L138.98,112.15 L140.30,111.53 L141.61,110.91 L142.92,110.30 L144.24,109.69 L145.55,109.08 L146.86,108.47 L148.18,107.87 L149.49,107.28 L150.80,106.68 L152.11,106.09 L153.43,105.51 L154.74,104.92 L156.05,104.35 L157.37,103.77 L158.68,103.20 L159.99,102.64 L161.31,102.07 L162.62,101.52 L163.93,100.96 L165.24,100.41 L166.56,99.87 L167.87,99.33 L169.18,98.79 L170.50,98.26 L171.81,97.73 L173.12,97.21 L174.44,96.69 L175.75,96.18 L177.06,95.67 L178.37,95.16 L179.69,94.66 L181.00,94.17 L182.31,93.67 L183.63,93.19 L184.94,92.71 L186.25,92.23 L187.56,91.76 L188.88,91.29 L190.19,90.82 L191.50,90.36 L192.82,89.91 L194.13,89.46 L195.44,89.01 L196.76,88.57 L198.07,88.14 L199.38,87.70 L200.69,87.28 L202.01,86.86 L203.32,86.44 L204.63,86.02 L205.95,85.61 L207.26,85.21 L208.57,84.81 L209.89,84.41 L211.20,84.02 L212.51,83.64 L213.82,83.25 L215.14,82.87 L216.45,82.50 L217.76,82.13 L219.08,81.77 L220.39,81.40 L221.70,81.05 L223.02,80.69 L224.33,80.35 L225.64,80.00 L226.95,79.66 L228.27,79.33 L229.58,78.99 L230.89,78.66 L232.21,78.34 L233.52,78.02 L234.83,77.70 L236.15,77.39 L237.46,77.08 L238.77,76.78 L240.08,76.48 L241.40,76.18 L242.71,75.88 L244.02,75.59 L245.34,75.31 L246.65,75.03 L247.96,74.75 L249.28,74.47 L250.59,74.20 L251.90,73.93 L253.21,73.66 L254.53,73.40 L255.84,73.14 L257.15,72.89 L258.47,72.63 L259.78,72.39 L261.09,72.14 L262.41,71.90 L263.72,71.66 L265.03,71.42 L266.34,71.19 L267.66,70.96 L268.97,70.73 L270.28,70.51 L271.60,70.28 L272.91,70.07 L274.22,69.85 L275.54,69.64 L276.85,69.43 L278.16,69.22 L279.47,69.01 L280.79,68.81 L282.10,68.61 L283.41,68.42 L284.73,68.22 L286.04,68.03 L287.35,67.84 L288.67,67.65 L289.98,67.47 L291.29,67.29 L292.61,67.11 L293.92,66.93 L295.23,66.75 L296.54,66.58 L297.86,66.41 L299.17,66.24 L300.48,66.08 L301.80,65.91 L303.11,65.75 L304.42,65.59 L305.73,65.44 L307.05,65.28 L308.36,65.13 L309.67,64.98 L310.99,64.83 L312.30,64.68" fill="none" stroke="#111" stroke-width="1.65"/>
<path d="M49.70,164.49 L51.01,163.83 L52.33,163.16 L53.64,162.48 L54.95,161.79 L56.27,161.09 L57.58,160.38 L58.89,159.66 L60.20,158.94 L61.52,158.21 L62.83,157.47 L64.14,156.73 L65.46,155.99 L66.77,155.24 L68.08,154.49 L69.40,153.74 L70.71,152.98 L72.02,152.22 L73.33,151.47 L74.65,150.71 L75.96,149.95 L77.27,149.19 L78.59,148.44 L79.90,147.68 L81.21,146.93 L82.53,146.18 L83.84,145.43 L85.15,144.68 L86.46,143.94 L87.78,143.20 L89.09,142.46 L90.40,141.73 L91.72,141.00 L93.03,140.27 L94.34,139.55 L95.66,138.83 L96.97,138.12 L98.28,137.41 L99.59,136.71 L100.91,136.01 L102.22,135.32 L103.53,134.63 L104.85,133.94 L106.16,133.26 L107.47,132.59 L108.78,131.92 L110.10,131.26 L111.41,130.60 L112.72,129.95 L114.04,129.30 L115.35,128.66 L116.66,128.03 L117.98,127.40 L119.29,126.77 L120.60,126.15 L121.92,125.54 L123.23,124.93 L124.54,124.33 L125.85,123.74 L127.17,123.14 L128.48,122.56 L129.79,121.98 L131.11,121.40 L132.42,120.83 L133.73,120.27 L135.05,119.71 L136.36,119.16 L137.67,118.61 L138.98,118.07 L140.30,117.53 L141.61,117.00 L142.92,116.47 L144.24,115.95 L145.55,115.44 L146.86,114.93 L148.18,114.42 L149.49,113.92 L150.80,113.42 L152.11,112.93 L153.43,112.44 L154.74,111.96 L156.05,111.49 L157.37,111.01 L158.68,110.55 L159.99,110.08 L161.31,109.62 L162.62,109.17 L163.93,108.72 L165.24,108.28 L166.56,107.84 L167.87,107.40 L169.18,106.97 L170.50,106.54 L171.81,106.12 L173.12,105.70 L174.44,105.29 L175.75,104.88 L177.06,104.47 L178.37,104.07 L179.69,103.67 L181.00,103.27 L182.31,102.88 L183.63,102.50 L184.94,102.11 L186.25,101.73 L187.56,101.36 L188.88,100.99 L190.19,100.62 L191.50,100.25 L192.82,99.89 L194.13,99.53 L195.44,99.18 L196.76,98.83 L198.07,98.48 L199.38,98.14 L200.69,97.80 L202.01,97.46 L203.32,97.12 L204.63,96.79 L205.95,96.47 L207.26,96.14 L208.57,95.82 L209.89,95.50 L211.20,95.18 L212.51,94.87 L213.82,94.56 L215.14,94.26 L216.45,93.95 L217.76,93.65 L219.08,93.35 L220.39,93.06 L221.70,92.76 L223.02,92.47 L224.33,92.19 L225.64,91.90 L226.95,91.62 L228.27,91.34 L229.58,91.06 L230.89,90.79 L232.21,90.52 L233.52,90.25 L234.83,89.98 L236.15,89.71 L237.46,89.45 L238.77,89.19 L240.08,88.93 L241.40,88.68 L242.71,88.43 L244.02,88.18 L245.34,87.93 L246.65,87.68 L247.96,87.44 L249.28,87.19 L250.59,86.95 L251.90,86.72 L253.21,86.48 L254.53,86.25 L255.84,86.02 L257.15,85.79 L258.47,85.56 L259.78,85.33 L261.09,85.11 L262.41,84.89 L263.72,84.67 L265.03,84.45 L266.34,84.23 L267.66,84.02 L268.97,83.81 L270.28,83.59 L271.60,83.39 L272.91,83.18 L274.22,82.97 L275.54,82.77 L276.85,82.57 L278.16,82.37 L279.47,82.17 L280.79,81.97 L282.10,81.77 L283.41,81.58 L284.73,81.39 L286.04,81.20 L287.35,81.01 L288.67,80.82 L289.98,80.63 L291.29,80.45 L292.61,80.27 L293.92,80.08 L295.23,79.90 L296.54,79.73 L297.86,79.55 L299.17,79.37 L300.48,79.20 L301.80,79.02 L303.11,78.85 L304.42,78.68 L305.73,78.51 L307.05,78.34 L308.36,78.18 L309.67,78.01 L310.99,77.85 L312.30,77.69" fill="none" stroke="#111" stroke-width="1.65"/>
<line x1="396.5" y1="20.5" x2="396.5" y2="175.5" stroke="#e3e3e3" stroke-width="1"/>
<line x1="448.5" y1="20.5" x2="448.5" y2="175.5" stroke="#e3e3e3" stroke-width="1"/>
<line x1="501.5" y1="20.5" x2="501.5" y2="175.5" stroke="#e3e3e3" stroke-width="1"/>
<line x1="553.5" y1="20.5" x2="553.5" y2="175.5" stroke="#e3e3e3" stroke-width="1"/>
<line x1="605.5" y1="20.5" x2="605.5" y2="175.5" stroke="#e3e3e3" stroke-width="1"/>
<line x1="658.5" y1="20.5" x2="658.5" y2="175.5" stroke="#e3e3e3" stroke-width="1"/>
<line x1="377.5" y1="149.5" x2="684.5" y2="149.5" stroke="#e3e3e3" stroke-width="1"/>
<line x1="377.5" y1="123.5" x2="684.5" y2="123.5" stroke="#e3e3e3" stroke-width="1"/>
<line x1="377.5" y1="97.5" x2="684.5" y2="97.5" stroke="#e3e3e3" stroke-width="1"/>
<line x1="377.5" y1="71.5" x2="684.5" y2="71.5" stroke="#e3e3e3" stroke-width="1"/>
<line x1="377.5" y1="45.5" x2="684.5" y2="45.5" stroke="#e3e3e3" stroke-width="1"/>
<line x1="377.5" y1="20.5" x2="684.5" y2="20.5" stroke="#c4c4c4" stroke-width="1"/>
<line x1="684.5" y1="20.5" x2="684.5" y2="175.5" stroke="#a0a0a0" stroke-width="1"/>
<line x1="377.5" y1="20.5" x2="377.5" y2="176.0" stroke="#a0a0a0" stroke-width="1"/>
<line x1="377.5" y1="175.5" x2="685.0" y2="175.5" stroke="#a8a8a8" stroke-width="1"/>
<path d="M396.30,107.47 L397.61,106.03 L398.92,104.61 L400.23,103.23 L401.54,101.89 L402.85,100.57 L404.16,99.29 L405.47,98.04 L406.78,96.83 L408.09,95.67 L409.41,94.54 L410.72,93.44 L412.03,92.38 L413.34,91.34 L414.65,90.32 L415.96,89.32 L417.27,88.34 L418.58,87.36 L419.89,86.40 L421.20,85.45 L422.51,84.53 L423.82,83.63 L425.13,82.75 L426.44,81.89 L427.75,81.06 L429.06,80.24 L430.37,79.45 L431.68,78.69 L432.99,77.95 L434.30,77.23 L435.62,76.53 L436.93,75.86 L438.24,75.22 L439.55,74.60 L440.86,74.00 L442.17,73.41 L443.48,72.84 L444.79,72.29 L446.10,71.74 L447.41,71.20 L448.72,70.66 L450.03,70.12 L451.34,69.59 L452.65,69.06 L453.96,68.55 L455.27,68.05 L456.58,67.56 L457.89,67.09 L459.20,66.63 L460.51,66.17 L461.83,65.73 L463.14,65.31 L464.45,64.89 L465.76,64.48 L467.07,64.09 L468.38,63.70 L469.69,63.33 L471.00,62.96 L472.31,62.61 L473.62,62.26 L474.93,61.92 L476.24,61.60 L477.55,61.27 L478.86,60.96 L480.17,60.66 L481.48,60.36 L482.79,60.07 L484.10,59.78 L485.41,59.51 L486.72,59.24 L488.04,58.97 L489.35,58.72 L490.66,58.46 L491.97,58.22 L493.28,57.98 L494.59,57.74 L495.90,57.51 L497.21,57.28 L498.52,57.06 L499.83,56.85 L501.14,56.64 L502.45,56.43 L503.76,56.23 L505.07,56.03 L506.38,55.83 L507.69,55.64 L509.00,55.46 L510.31,55.28 L511.62,55.10 L512.93,54.93 L514.25,54.76 L515.56,54.59 L516.87,54.43 L518.18,54.27 L519.49,54.11 L520.80,53.96 L522.11,53.81 L523.42,53.66 L524.73,53.52 L526.04,53.38 L527.35,53.24 L528.66,53.10 L529.97,52.97 L531.28,52.84 L532.59,52.71 L533.90,52.59 L535.21,52.47 L536.52,52.35 L537.83,52.23 L539.14,52.11 L540.46,52.00 L541.77,51.89 L543.08,51.78 L544.39,51.67 L545.70,51.57 L547.01,51.47 L548.32,51.36 L549.63,51.26 L550.94,51.17 L552.25,51.07 L553.56,50.98 L554.87,50.89 L556.18,50.80 L557.49,50.71 L558.80,50.62 L560.11,50.54 L561.42,50.45 L562.73,50.37 L564.04,50.29 L565.35,50.21 L566.66,50.13 L567.98,50.06 L569.29,49.99 L570.60,49.91 L571.91,49.84 L573.22,49.77 L574.53,49.70 L575.84,49.64 L577.15,49.57 L578.46,49.51 L579.77,49.44 L581.08,49.38 L582.39,49.32 L583.70,49.26 L585.01,49.20 L586.32,49.14 L587.63,49.08 L588.94,49.03 L590.25,48.97 L591.56,48.92 L592.88,48.87 L594.19,48.81 L595.50,48.76 L596.81,48.71 L598.12,48.66 L599.43,48.61 L600.74,48.56 L602.05,48.52 L603.36,48.47 L604.67,48.42 L605.98,48.38 L607.29,48.34 L608.60,48.29 L609.91,48.25 L611.22,48.21 L612.53,48.17 L613.84,48.13 L615.15,48.09 L616.46,48.05 L617.77,48.01 L619.09,47.97 L620.40,47.93 L621.71,47.90 L623.02,47.86 L624.33,47.83 L625.64,47.79 L626.95,47.76 L628.26,47.73 L629.57,47.69 L630.88,47.66 L632.19,47.63 L633.50,47.60 L634.81,47.57 L636.12,47.54 L637.43,47.51 L638.74,47.48 L640.05,47.45 L641.36,47.43 L642.67,47.40 L643.98,47.37 L645.30,47.35 L646.61,47.32 L647.92,47.30 L649.23,47.27 L650.54,47.25 L651.85,47.22 L653.16,47.20 L654.47,47.18 L655.78,47.15 L657.09,47.13 L658.40,47.11 L658.40,51.11 L657.09,51.14 L655.78,51.18 L654.47,51.21 L653.16,51.25 L651.85,51.28 L650.54,51.32 L649.23,51.36 L647.92,51.39 L646.61,51.43 L645.30,51.47 L643.98,51.50 L642.67,51.54 L641.36,51.58 L640.05,51.62 L638.74,51.66 L637.43,51.70 L636.12,51.74 L634.81,51.78 L633.50,51.82 L632.19,51.86 L630.88,51.90 L629.57,51.94 L628.26,51.98 L626.95,52.03 L625.64,52.07 L624.33,52.11 L623.02,52.16 L621.71,52.20 L620.40,52.25 L619.09,52.29 L617.77,52.34 L616.46,52.39 L615.15,52.43 L613.84,52.48 L612.53,52.53 L611.22,52.58 L609.91,52.63 L608.60,52.68 L607.29,52.73 L605.98,52.78 L604.67,52.83 L603.36,52.88 L602.05,52.94 L600.74,52.99 L599.43,53.05 L598.12,53.10 L596.81,53.16 L595.50,53.22 L594.19,53.27 L592.88,53.33 L591.56,53.39 L590.25,53.45 L588.94,53.52 L587.63,53.58 L586.32,53.64 L585.01,53.71 L583.70,53.77 L582.39,53.84 L581.08,53.91 L579.77,53.97 L578.46,54.04 L577.15,54.11 L575.84,54.19 L574.53,54.26 L573.22,54.33 L571.91,54.41 L570.60,54.48 L569.29,54.56 L567.98,54.64 L566.66,54.72 L565.35,54.80 L564.04,54.88 L562.73,54.96 L561.42,55.04 L560.11,55.13 L558.80,55.22 L557.49,55.31 L556.18,55.39 L554.87,55.49 L553.56,55.58 L552.25,55.67 L550.94,55.77 L549.63,55.86 L548.32,55.96 L547.01,56.07 L545.70,56.17 L544.39,56.27 L543.08,56.38 L541.77,56.49 L540.46,56.60 L539.14,56.71 L537.83,56.83 L536.52,56.95 L535.21,57.07 L533.90,57.19 L532.59,57.31 L531.28,57.44 L529.97,57.57 L528.66,57.70 L527.35,57.84 L526.04,57.98 L524.73,58.12 L523.42,58.26 L522.11,58.41 L520.80,58.56 L519.49,58.71 L518.18,58.87 L516.87,59.03 L515.56,59.19 L514.25,59.36 L512.93,59.53 L511.62,59.70 L510.31,59.88 L509.00,60.06 L507.69,60.24 L506.38,60.43 L505.07,60.63 L503.76,60.83 L502.45,61.03 L501.14,61.24 L499.83,61.45 L498.52,61.67 L497.21,61.89 L495.90,62.12 L494.59,62.35 L493.28,62.59 L491.97,62.84 L490.66,63.09 L489.35,63.35 L488.04,63.61 L486.72,63.89 L485.41,64.16 L484.10,64.45 L482.79,64.74 L481.48,65.04 L480.17,65.35 L478.86,65.66 L477.55,65.99 L476.24,66.32 L474.93,66.66 L473.62,67.01 L472.31,67.36 L471.00,67.73 L469.69,68.11 L468.38,68.49 L467.07,68.89 L465.76,69.29 L464.45,69.71 L463.14,70.14 L461.83,70.58 L460.51,71.03 L459.20,71.49 L457.89,71.97 L456.58,72.46 L455.27,72.97 L453.96,73.49 L452.65,74.03 L451.34,74.58 L450.03,75.15 L448.72,75.76 L447.41,76.39 L446.10,77.06 L444.79,77.75 L443.48,78.47 L442.17,79.21 L440.86,79.98 L439.55,80.77 L438.24,81.58 L436.93,82.40 L435.62,83.25 L434.30,84.12 L432.99,85.00 L431.68,85.91 L430.37,86.84 L429.06,87.80 L427.75,88.79 L426.44,89.81 L425.13,90.86 L423.82,91.95 L422.51,93.07 L421.20,94.22 L419.89,95.42 L418.58,96.65 L417.27,97.94 L415.96,99.29 L414.65,100.68 L413.34,102.13 L412.03,103.62 L410.72,105.15 L409.41,106.73 L408.09,108.34 L406.78,109.99 L405.47,111.67 L404.16,113.38 L402.85,115.14 L401.54,116.93 L400.23,118.77 L398.92,120.64 L397.61,122.56 L396.30,124.51Z" fill="#0000ff"/>
<path d="M396.30,157.48 L397.61,156.92 L398.92,156.35 L400.23,155.77 L401.54,155.19 L402.85,154.61 L404.16,154.02 L405.47,153.43 L406.78,152.83 L408.09,152.23 L409.41,151.62 L410.72,151.02 L412.03,150.41 L413.34,149.79 L414.65,149.18 L415.96,148.56 L417.27,147.94 L418.58,147.32 L419.89,146.70 L421.20,146.07 L422.51,145.45 L423.82,144.82 L425.13,144.19 L426.44,143.57 L427.75,142.94 L429.06,142.31 L430.37,141.68 L431.68,141.05 L432.99,140.42 L434.30,139.79 L435.62,139.17 L436.93,138.54 L438.24,137.91 L439.55,137.29 L440.86,136.66 L442.17,136.04 L443.48,135.42 L444.79,134.80 L446.10,134.18 L447.41,133.56 L448.72,132.95 L450.03,132.33 L451.34,131.72 L452.65,131.12 L453.96,130.51 L455.27,129.91 L456.58,129.31 L457.89,128.71 L459.20,128.12 L460.51,127.53 L461.83,126.94 L463.14,126.35 L464.45,125.77 L465.76,125.19 L467.07,124.62 L468.38,124.04 L469.69,123.48 L471.00,122.91 L472.31,122.35 L473.62,121.79 L474.93,121.23 L476.24,120.68 L477.55,120.13 L478.86,119.58 L480.17,119.04 L481.48,118.50 L482.79,117.97 L484.10,117.43 L485.41,116.91 L486.72,116.38 L488.04,115.86 L489.35,115.34 L490.66,114.82 L491.97,114.31 L493.28,113.80 L494.59,113.30 L495.90,112.79 L497.21,112.30 L498.52,111.80 L499.83,111.31 L501.14,110.82 L502.45,110.33 L503.76,109.84 L505.07,109.36 L506.38,108.88 L507.69,108.40 L509.00,107.92 L510.31,107.44 L511.62,106.96 L512.93,106.49 L514.25,106.02 L515.56,105.55 L516.87,105.08 L518.18,104.62 L519.49,104.15 L520.80,103.69 L522.11,103.24 L523.42,102.78 L524.73,102.33 L526.04,101.89 L527.35,101.44 L528.66,101.00 L529.97,100.56 L531.28,100.13 L532.59,99.70 L533.90,99.27 L535.21,98.85 L536.52,98.43 L537.83,98.01 L539.14,97.60 L540.46,97.19 L541.77,96.79 L543.08,96.39 L544.39,96.00 L545.70,95.61 L547.01,95.22 L548.32,94.84 L549.63,94.47 L550.94,94.09 L552.25,93.73 L553.56,93.37 L554.87,93.01 L556.18,92.66 L557.49,92.30 L558.80,91.96 L560.11,91.61 L561.42,91.27 L562.73,90.93 L564.04,90.59 L565.35,90.26 L566.66,89.93 L567.98,89.60 L569.29,89.28 L570.60,88.95 L571.91,88.64 L573.22,88.32 L574.53,88.01 L575.84,87.70 L577.15,87.39 L578.46,87.09 L579.77,86.79 L581.08,86.49 L582.39,86.20 L583.70,85.91 L585.01,85.62 L586.32,85.34 L587.63,85.06 L588.94,84.78 L590.25,84.51 L591.56,84.24 L592.88,83.97 L594.19,83.71 L595.50,83.45 L596.81,83.19 L598.12,82.94 L599.43,82.69 L600.74,82.44 L602.05,82.20 L603.36,81.96 L604.67,81.72 L605.98,81.49 L607.29,81.26 L608.60,81.03 L609.91,80.80 L611.22,80.58 L612.53,80.36 L613.84,80.14 L615.15,79.92 L616.46,79.71 L617.77,79.50 L619.09,79.29 L620.40,79.08 L621.71,78.87 L623.02,78.67 L624.33,78.47 L625.64,78.27 L626.95,78.07 L628.26,77.88 L629.57,77.68 L630.88,77.49 L632.19,77.30 L633.50,77.12 L634.81,76.93 L636.12,76.75 L637.43,76.57 L638.74,76.40 L640.05,76.22 L641.36,76.05 L642.67,75.88 L643.98,75.71 L645.30,75.54 L646.61,75.38 L647.92,75.21 L649.23,75.05 L650.54,74.90 L651.85,74.74 L653.16,74.59 L654.47,74.43 L655.78,74.29 L657.09,74.14 L658.40,73.99 L658.40,78.79 L657.09,78.97 L655.78,79.14 L654.47,79.32 L653.16,79.49 L651.85,79.67 L650.54,79.85 L649.23,80.03 L647.92,80.21 L646.61,80.39 L645.30,80.57 L643.98,80.75 L642.67,80.94 L641.36,81.12 L640.05,81.31 L638.74,81.50 L637.43,81.69 L636.12,81.88 L634.81,82.07 L633.50,82.26 L632.19,82.45 L630.88,82.65 L629.57,82.85 L628.26,83.05 L626.95,83.25 L625.64,83.45 L624.33,83.65 L623.02,83.86 L621.71,84.06 L620.40,84.27 L619.09,84.48 L617.77,84.69 L616.46,84.91 L615.15,85.12 L613.84,85.34 L612.53,85.56 L611.22,85.78 L609.91,86.00 L608.60,86.23 L607.29,86.46 L605.98,86.69 L604.67,86.92 L603.36,87.15 L602.05,87.38 L600.74,87.62 L599.43,87.85 L598.12,88.09 L596.81,88.33 L595.50,88.57 L594.19,88.81 L592.88,89.05 L591.56,89.30 L590.25,89.54 L588.94,89.79 L587.63,90.04 L586.32,90.29 L585.01,90.55 L583.70,90.80 L582.39,91.06 L581.08,91.32 L579.77,91.58 L578.46,91.84 L577.15,92.11 L575.84,92.38 L574.53,92.65 L573.22,92.92 L571.91,93.20 L570.60,93.47 L569.29,93.75 L567.98,94.04 L566.66,94.33 L565.35,94.62 L564.04,94.91 L562.73,95.20 L561.42,95.50 L560.11,95.81 L558.80,96.11 L557.49,96.42 L556.18,96.73 L554.87,97.05 L553.56,97.37 L552.25,97.69 L550.94,98.01 L549.63,98.34 L548.32,98.66 L547.01,98.99 L545.70,99.32 L544.39,99.66 L543.08,99.99 L541.77,100.33 L540.46,100.67 L539.14,101.01 L537.83,101.36 L536.52,101.71 L535.21,102.06 L533.90,102.42 L532.59,102.78 L531.28,103.14 L529.97,103.51 L528.66,103.88 L527.35,104.25 L526.04,104.63 L524.73,105.02 L523.42,105.41 L522.11,105.80 L520.80,106.20 L519.49,106.60 L518.18,107.01 L516.87,107.42 L515.56,107.84 L514.25,108.26 L512.93,108.69 L511.62,109.12 L510.31,109.56 L509.00,110.01 L507.69,110.46 L506.38,110.92 L505.07,111.38 L503.76,111.85 L502.45,112.33 L501.14,112.82 L499.83,113.31 L498.52,113.80 L497.21,114.30 L495.90,114.81 L494.59,115.32 L493.28,115.83 L491.97,116.35 L490.66,116.87 L489.35,117.40 L488.04,117.93 L486.72,118.47 L485.41,119.01 L484.10,119.56 L482.79,120.11 L481.48,120.66 L480.17,121.22 L478.86,121.78 L477.55,122.35 L476.24,122.92 L474.93,123.50 L473.62,124.08 L472.31,124.66 L471.00,125.25 L469.69,125.84 L468.38,126.44 L467.07,127.03 L465.76,127.64 L464.45,128.24 L463.14,128.85 L461.83,129.46 L460.51,130.08 L459.20,130.70 L457.89,131.32 L456.58,131.94 L455.27,132.57 L453.96,133.20 L452.65,133.84 L451.34,134.47 L450.03,135.11 L448.72,135.75 L447.41,136.39 L446.10,137.04 L444.79,137.68 L443.48,138.33 L442.17,138.98 L440.86,139.64 L439.55,140.30 L438.24,140.95 L436.93,141.61 L435.62,142.27 L434.30,142.94 L432.99,143.60 L431.68,144.26 L430.37,144.93 L429.06,145.60 L427.75,146.26 L426.44,146.93 L425.13,147.60 L423.82,148.26 L422.51,148.93 L421.20,149.60 L419.89,150.26 L418.58,150.93 L417.27,151.59 L415.96,152.26 L414.65,152.92 L413.34,153.58 L412.03,154.23 L410.72,154.89 L409.41,155.54 L408.09,156.19 L406.78,156.84 L405.47,157.49 L404.16,158.13 L402.85,158.76 L401.54,159.40 L400.23,160.03 L398.92,160.65 L397.61,161.27 L396.30,161.88Z" fill="#ffa500"/>
<path d="M396.30,115.99 L397.61,114.29 L398.92,112.63 L400.23,111.00 L401.54,109.41 L402.85,107.85 L404.16,106.34 L405.47,104.86 L406.78,103.41 L408.09,102.01 L409.41,100.63 L410.72,99.30 L412.03,98.00 L413.34,96.73 L414.65,95.50 L415.96,94.31 L417.27,93.14 L418.58,92.01 L419.89,90.91 L421.20,89.84 L422.51,88.80 L423.82,87.79 L425.13,86.81 L426.44,85.85 L427.75,84.92 L429.06,84.02 L430.37,83.15 L431.68,82.30 L432.99,81.47 L434.30,80.67 L435.62,79.89 L436.93,79.13 L438.24,78.40 L439.55,77.68 L440.86,76.99 L442.17,76.31 L443.48,75.66 L444.79,75.02 L446.10,74.40 L447.41,73.79 L448.72,73.21 L450.03,72.64 L451.34,72.08 L452.65,71.54 L453.96,71.02 L455.27,70.51 L456.58,70.01 L457.89,69.53 L459.20,69.06 L460.51,68.60 L461.83,68.16 L463.14,67.72 L464.45,67.30 L465.76,66.89 L467.07,66.49 L468.38,66.10 L469.69,65.72 L471.00,65.35 L472.31,64.99 L473.62,64.63 L474.93,64.29 L476.24,63.96 L477.55,63.63 L478.86,63.31 L480.17,63.00 L481.48,62.70 L482.79,62.40 L484.10,62.12 L485.41,61.84 L486.72,61.56 L488.04,61.29 L489.35,61.03 L490.66,60.78 L491.97,60.53 L493.28,60.28 L494.59,60.05 L495.90,59.81 L497.21,59.59 L498.52,59.36 L499.83,59.15 L501.14,58.94 L502.45,58.73 L503.76,58.53 L505.07,58.33 L506.38,58.13 L507.69,57.94 L509.00,57.76 L510.31,57.58 L511.62,57.40 L512.93,57.23 L514.25,57.06 L515.56,56.89 L516.87,56.73 L518.18,56.57 L519.49,56.41 L520.80,56.26 L522.11,56.11 L523.42,55.96 L524.73,55.82 L526.04,55.68 L527.35,55.54 L528.66,55.40 L529.97,55.27 L531.28,55.14 L532.59,55.01 L533.90,54.89 L535.21,54.77 L536.52,54.65 L537.83,54.53 L539.14,54.41 L540.46,54.30 L541.77,54.19 L543.08,54.08 L544.39,53.97 L545.70,53.87 L547.01,53.77 L548.32,53.66 L549.63,53.56 L550.94,53.47 L552.25,53.37 L553.56,53.28 L554.87,53.19 L556.18,53.09 L557.49,53.01 L558.80,52.92 L560.11,52.83 L561.42,52.75 L562.73,52.67 L564.04,52.58 L565.35,52.50 L566.66,52.43 L567.98,52.35 L569.29,52.27 L570.60,52.20 L571.91,52.12 L573.22,52.05 L574.53,51.98 L575.84,51.91 L577.15,51.84 L578.46,51.77 L579.77,51.71 L581.08,51.64 L582.39,51.58 L583.70,51.52 L585.01,51.45 L586.32,51.39 L587.63,51.33 L588.94,51.27 L590.25,51.21 L591.56,51.16 L592.88,51.10 L594.19,51.04 L595.50,50.99 L596.81,50.94 L598.12,50.88 L599.43,50.83 L600.74,50.78 L602.05,50.73 L603.36,50.68 L604.67,50.63 L605.98,50.58 L607.29,50.53 L608.60,50.48 L609.91,50.44 L611.22,50.39 L612.53,50.35 L613.84,50.30 L615.15,50.26 L616.46,50.22 L617.77,50.17 L619.09,50.13 L620.40,50.09 L621.71,50.05 L623.02,50.01 L624.33,49.97 L625.64,49.93 L626.95,49.89 L628.26,49.86 L629.57,49.82 L630.88,49.78 L632.19,49.74 L633.50,49.71 L634.81,49.67 L636.12,49.64 L637.43,49.60 L638.74,49.57 L640.05,49.54 L641.36,49.50 L642.67,49.47 L643.98,49.44 L645.30,49.41 L646.61,49.38 L647.92,49.34 L649.23,49.31 L650.54,49.28 L651.85,49.25 L653.16,49.22 L654.47,49.20 L655.78,49.17 L657.09,49.14 L658.40,49.11" fill="none" stroke="#ff0000" stroke-width="1.65" stroke-opacity="0.9"/>
<path d="M396.30,159.68 L397.61,159.09 L398.92,158.50 L400.23,157.90 L401.54,157.29 L402.85,156.69 L404.16,156.07 L405.47,155.46 L406.78,154.83 L408.09,154.21 L409.41,153.58 L410.72,152.95 L412.03,152.32 L413.34,151.69 L414.65,151.05 L415.96,150.41 L417.27,149.77 L418.58,149.12 L419.89,148.48 L421.20,147.84 L422.51,147.19 L423.82,146.54 L425.13,145.90 L426.44,145.25 L427.75,144.60 L429.06,143.95 L430.37,143.30 L431.68,142.66 L432.99,142.01 L434.30,141.37 L435.62,140.72 L436.93,140.08 L438.24,139.43 L439.55,138.79 L440.86,138.15 L442.17,137.51 L443.48,136.88 L444.79,136.24 L446.10,135.61 L447.41,134.98 L448.72,134.35 L450.03,133.72 L451.34,133.10 L452.65,132.48 L453.96,131.86 L455.27,131.24 L456.58,130.63 L457.89,130.02 L459.20,129.41 L460.51,128.80 L461.83,128.20 L463.14,127.60 L464.45,127.01 L465.76,126.41 L467.07,125.83 L468.38,125.24 L469.69,124.66 L471.00,124.08 L472.31,123.50 L473.62,122.93 L474.93,122.37 L476.24,121.80 L477.55,121.24 L478.86,120.68 L480.17,120.13 L481.48,119.58 L482.79,119.04 L484.10,118.50 L485.41,117.96 L486.72,117.42 L488.04,116.90 L489.35,116.37 L490.66,115.85 L491.97,115.33 L493.28,114.82 L494.59,114.31 L495.90,113.80 L497.21,113.30 L498.52,112.80 L499.83,112.31 L501.14,111.82 L502.45,111.33 L503.76,110.85 L505.07,110.37 L506.38,109.90 L507.69,109.43 L509.00,108.96 L510.31,108.50 L511.62,108.04 L512.93,107.59 L514.25,107.14 L515.56,106.69 L516.87,106.25 L518.18,105.81 L519.49,105.38 L520.80,104.95 L522.11,104.52 L523.42,104.10 L524.73,103.68 L526.04,103.26 L527.35,102.85 L528.66,102.44 L529.97,102.04 L531.28,101.64 L532.59,101.24 L533.90,100.85 L535.21,100.46 L536.52,100.07 L537.83,99.69 L539.14,99.31 L540.46,98.93 L541.77,98.56 L543.08,98.19 L544.39,97.83 L545.70,97.47 L547.01,97.11 L548.32,96.75 L549.63,96.40 L550.94,96.05 L552.25,95.71 L553.56,95.37 L554.87,95.03 L556.18,94.69 L557.49,94.36 L558.80,94.03 L560.11,93.71 L561.42,93.39 L562.73,93.07 L564.04,92.75 L565.35,92.44 L566.66,92.13 L567.98,91.82 L569.29,91.52 L570.60,91.21 L571.91,90.92 L573.22,90.62 L574.53,90.33 L575.84,90.04 L577.15,89.75 L578.46,89.47 L579.77,89.18 L581.08,88.90 L582.39,88.63 L583.70,88.36 L585.01,88.08 L586.32,87.82 L587.63,87.55 L588.94,87.29 L590.25,87.03 L591.56,86.77 L592.88,86.51 L594.19,86.26 L595.50,86.01 L596.81,85.76 L598.12,85.51 L599.43,85.27 L600.74,85.03 L602.05,84.79 L603.36,84.55 L604.67,84.32 L605.98,84.09 L607.29,83.86 L608.60,83.63 L609.91,83.40 L611.22,83.18 L612.53,82.96 L613.84,82.74 L615.15,82.52 L616.46,82.31 L617.77,82.09 L619.09,81.88 L620.40,81.67 L621.71,81.47 L623.02,81.26 L624.33,81.06 L625.64,80.86 L626.95,80.66 L628.26,80.46 L629.57,80.27 L630.88,80.07 L632.19,79.88 L633.50,79.69 L634.81,79.50 L636.12,79.31 L637.43,79.13 L638.74,78.95 L640.05,78.76 L641.36,78.59 L642.67,78.41 L643.98,78.23 L645.30,78.06 L646.61,77.88 L647.92,77.71 L649.23,77.54 L650.54,77.37 L651.85,77.21 L653.16,77.04 L654.47,76.88 L655.78,76.71 L657.09,76.55 L658.40,76.39" fill="none" stroke="#14f5e6" stroke-width="1.7"/>
<path d="M396.30,92.63 L397.61,91.69 L398.92,90.78 L400.23,89.90 L401.54,89.04 L402.85,88.20 L404.16,87.38 L405.47,86.59 L406.78,85.82 L408.09,85.07 L409.41,84.34 L410.72,83.62 L412.03,82.93 L413.34,82.25 L414.65,81.58 L415.96,80.93 L417.27,80.30 L418.58,79.68 L419.89,79.08 L421.20,78.49 L422.51,77.91 L423.82,77.35 L425.13,76.79 L426.44,76.25 L427.75,75.72 L429.06,75.20 L430.37,74.69 L431.68,74.19 L432.99,73.70 L434.30,73.22 L435.62,72.75 L436.93,72.29 L438.24,71.84 L439.55,71.40 L440.86,70.92 L442.17,69.98 L443.48,69.08 L444.79,68.21 L446.10,67.38 L447.41,66.58 L448.72,65.82 L450.03,65.09 L451.34,64.38 L452.65,63.71 L453.96,63.06 L455.27,62.43 L456.58,61.84 L457.89,61.26 L459.20,60.72 L460.51,60.19 L461.83,59.68 L463.14,59.20 L464.45,58.73 L465.76,58.28 L467.07,57.85 L468.38,57.44 L469.69,57.04 L471.00,56.66 L472.31,56.30 L473.62,55.95 L474.93,55.61 L476.24,55.29 L477.55,54.98 L478.86,54.68 L480.17,54.39 L481.48,54.11 L482.79,53.84 L484.10,53.59 L485.41,53.34 L486.72,53.10 L488.04,52.88 L489.35,52.66 L490.66,52.44 L491.97,52.24 L493.28,52.04 L494.59,51.85 L495.90,51.67 L497.21,51.49 L498.52,51.32 L499.83,51.16 L501.14,51.00 L502.45,50.85 L503.76,50.70 L505.07,50.56 L506.38,50.42 L507.69,50.29 L509.00,50.16 L510.31,50.04 L511.62,49.92 L512.93,49.81 L514.25,49.69 L515.56,49.59 L516.87,49.48 L518.18,49.38 L519.49,49.28 L520.80,49.19 L522.11,49.10 L523.42,49.01 L524.73,48.92 L526.04,48.84 L527.35,48.76 L528.66,48.68 L529.97,48.61 L531.28,48.53 L532.59,48.46 L533.90,48.39 L535.21,48.33 L536.52,48.26 L537.83,48.20 L539.14,48.14 L540.46,48.08 L541.77,48.02 L543.08,47.97 L544.39,47.91 L545.70,47.86 L547.01,47.81 L548.32,47.76 L549.63,47.71 L550.94,47.67 L552.25,47.62 L553.56,47.58 L554.87,47.53 L556.18,47.49 L557.49,47.45 L558.80,47.41 L560.11,47.37 L561.42,47.34 L562.73,47.30 L564.04,47.27 L565.35,47.23 L566.66,47.20 L567.98,47.17 L569.29,47.13 L570.60,47.10 L571.91,47.07 L573.22,47.04 L574.53,47.01 L575.84,46.99 L577.15,46.96 L578.46,46.93 L579.77,46.91 L581.08,46.88 L582.39,46.86 L583.70,46.83 L585.01,46.81 L586.32,46.79 L587.63,46.77 L588.94,46.74 L590.25,46.72 L591.56,46.70 L592.88,46.68 L594.19,46.66 L595.50,46.64 L596.81,46.63 L598.12,46.61 L599.43,46.59 L600.74,46.57 L602.05,46.56 L603.36,46.54 L604.67,46.52 L605.98,46.51 L607.29,46.49 L608.60,46.48 L609.91,46.46 L611.22,46.45 L612.53,46.43 L613.84,46.42 L615.15,46.41 L616.46,46.39 L617.77,46.38 L619.09,46.37 L620.40,46.35 L621.71,46.34 L623.02,46.33 L624.33,46.32 L625.64,46.31 L626.95,46.30 L628.26,46.29 L629.57,46.27 L630.88,46.26 L632.19,46.25 L633.50,46.24 L634.81,46.23 L636.12,46.22 L637.43,46.22 L638.74,46.21 L640.05,46.20 L641.36,46.19 L642.67,46.18 L643.98,46.17 L645.30,46.16 L646.61,46.15 L647.92,46.15 L649.23,46.14 L650.54,46.13 L651.85,46.12 L653.16,46.12 L654.47,46.11 L655.78,46.10 L657.09,46.10 L658.40,46.09" fill="none" stroke="#111" stroke-width="1.65"/>
<path d="M396.30,142.20 L397.61,140.11 L398.92,137.99 L400.23,135.86 L401.54,133.71 L402.85,131.56 L404.16,129.41 L405.47,127.25 L406.78,125.10 L408.09,122.97 L409.41,120.85 L410.72,118.74 L412.03,116.67 L413.34,114.62 L414.65,112.60 L415.96,110.62 L417.27,108.69 L418.58,106.80 L419.89,104.96 L421.20,103.18 L422.51,101.46 L423.82,99.81 L425.13,98.22 L426.44,96.70 L427.75,95.25 L429.06,93.86 L430.37,92.53 L431.68,91.26 L432.99,90.04 L434.30,88.88 L435.62,87.77 L436.93,86.70 L438.24,85.69 L439.55,84.72 L440.86,83.79 L442.17,82.91 L443.48,82.06 L444.79,81.25 L446.10,80.47 L447.41,79.72 L448.72,79.00 L450.03,78.31 L451.34,77.64 L452.65,76.99 L453.96,76.37 L455.27,75.77 L456.58,75.19 L457.89,74.63 L459.20,74.09 L460.51,73.57 L461.83,73.06 L463.14,72.58 L464.45,72.12 L465.76,71.67 L467.07,71.24 L468.38,70.82 L469.69,70.42 L471.00,70.04 L472.31,69.67 L473.62,69.31 L474.93,68.97 L476.24,68.64 L477.55,68.32 L478.86,68.02 L480.17,67.72 L481.48,67.44 L482.79,67.17 L484.10,66.91 L485.41,66.65 L486.72,66.41 L488.04,66.17 L489.35,65.94 L490.66,65.72 L491.97,65.51 L493.28,65.30 L494.59,65.09 L495.90,64.90 L497.21,64.70 L498.52,64.51 L499.83,64.32 L501.14,64.14 L502.45,63.96 L503.76,63.78 L505.07,63.60 L506.38,63.42 L507.69,63.25 L509.00,63.08 L510.31,62.91 L511.62,62.74 L512.93,62.58 L514.25,62.42 L515.56,62.26 L516.87,62.10 L518.18,61.94 L519.49,61.79 L520.80,61.64 L522.11,61.49 L523.42,61.34 L524.73,61.19 L526.04,61.05 L527.35,60.90 L528.66,60.76 L529.97,60.63 L531.28,60.49 L532.59,60.35 L533.90,60.22 L535.21,60.09 L536.52,59.96 L537.83,59.83 L539.14,59.71 L540.46,59.58 L541.77,59.46 L543.08,59.34 L544.39,59.22 L545.70,59.10 L547.01,58.99 L548.32,58.88 L549.63,58.76 L550.94,58.65 L552.25,58.54 L553.56,58.44 L554.87,58.33 L556.18,58.23 L557.49,58.12 L558.80,58.02 L560.11,57.92 L561.42,57.83 L562.73,57.73 L564.04,57.63 L565.35,57.54 L566.66,57.45 L567.98,57.36 L569.29,57.27 L570.60,57.18 L571.91,57.09 L573.22,57.01 L574.53,56.92 L575.84,56.84 L577.15,56.76 L578.46,56.68 L579.77,56.60 L581.08,56.52 L582.39,56.45 L583.70,56.37 L585.01,56.30 L586.32,56.22 L587.63,56.15 L588.94,56.08 L590.25,56.01 L591.56,55.94 L592.88,55.87 L594.19,55.81 L595.50,55.74 L596.81,55.68 L598.12,55.61 L599.43,55.55 L600.74,55.49 L602.05,55.43 L603.36,55.37 L604.67,55.31 L605.98,55.25 L607.29,55.20 L608.60,55.14 L609.91,55.09 L611.22,55.03 L612.53,54.98 L613.84,54.93 L615.15,54.87 L616.46,54.82 L617.77,54.77 L619.09,54.72 L620.40,54.67 L621.71,54.63 L623.02,54.58 L624.33,54.53 L625.64,54.49 L626.95,54.44 L628.26,54.40 L629.57,54.35 L630.88,54.31 L632.19,54.26 L633.50,54.22 L634.81,54.18 L636.12,54.14 L637.43,54.10 L638.74,54.06 L640.05,54.02 L641.36,53.98 L642.67,53.94 L643.98,53.90 L645.30,53.86 L646.61,53.82 L647.92,53.78 L649.23,53.74 L650.54,53.71 L651.85,53.67 L653.16,53.63 L654.47,53.60 L655.78,53.56 L657.09,53.53 L658.40,53.49" fill="none" stroke="#111" stroke-width="1.65"/>
<path d="M396.30,154.45 L397.61,153.88 L398.92,153.32 L400.23,152.75 L401.54,152.18 L402.85,151.62 L404.16,151.05 L405.47,150.48 L406.78,149.91 L408.09,149.34 L409.41,148.77 L410.72,148.19 L412.03,147.62 L413.34,147.05 L414.65,146.47 L415.96,145.90 L417.27,145.32 L418.58,144.75 L419.89,144.17 L421.20,143.60 L422.51,143.02 L423.82,142.45 L425.13,141.87 L426.44,141.29 L427.75,140.72 L429.06,140.14 L430.37,139.57 L431.68,138.99 L432.99,138.41 L434.30,137.84 L435.62,137.26 L436.93,136.69 L438.24,136.11 L439.55,135.54 L440.86,134.96 L442.17,134.39 L443.48,133.82 L444.79,133.24 L446.10,132.67 L447.41,132.10 L448.72,131.53 L450.03,130.96 L451.34,130.39 L452.65,129.83 L453.96,129.26 L455.27,128.69 L456.58,128.13 L457.89,127.56 L459.20,127.00 L460.51,126.44 L461.83,125.88 L463.14,125.32 L464.45,124.76 L465.76,124.21 L467.07,123.65 L468.38,123.10 L469.69,122.54 L471.00,121.99 L472.31,121.45 L473.62,120.90 L474.93,120.35 L476.24,119.81 L477.55,119.27 L478.86,118.73 L480.17,118.19 L481.48,117.65 L482.79,117.12 L484.10,116.58 L485.41,116.05 L486.72,115.53 L488.04,115.00 L489.35,114.48 L490.66,113.95 L491.97,113.43 L493.28,112.92 L494.59,112.40 L495.90,111.89 L497.21,111.38 L498.52,110.87 L499.83,110.37 L501.14,109.86 L502.45,109.36 L503.76,108.87 L505.07,108.37 L506.38,107.88 L507.69,107.39 L509.00,106.90 L510.31,106.42 L511.62,105.94 L512.93,105.46 L514.25,104.98 L515.56,104.51 L516.87,104.04 L518.18,103.57 L519.49,103.11 L520.80,102.65 L522.11,102.19 L523.42,101.73 L524.73,101.28 L526.04,100.83 L527.35,100.39 L528.66,99.94 L529.97,99.50 L531.28,99.07 L532.59,98.63 L533.90,98.20 L535.21,97.78 L536.52,97.35 L537.83,96.93 L539.14,96.51 L540.46,96.10 L541.77,95.69 L543.08,95.28 L544.39,94.87 L545.70,94.47 L547.01,94.07 L548.32,93.68 L549.63,93.29 L550.94,92.90 L552.25,92.51 L553.56,92.13 L554.87,91.75 L556.18,91.38 L557.49,91.00 L558.80,90.63 L560.11,90.27 L561.42,89.91 L562.73,89.55 L564.04,89.19 L565.35,88.84 L566.66,88.49 L567.98,88.14 L569.29,87.80 L570.60,87.46 L571.91,87.12 L573.22,86.79 L574.53,86.46 L575.84,86.13 L577.15,85.81 L578.46,85.49 L579.77,85.17 L581.08,84.85 L582.39,84.54 L583.70,84.23 L585.01,83.93 L586.32,83.63 L587.63,83.33 L588.94,83.03 L590.25,82.74 L591.56,82.45 L592.88,82.16 L594.19,81.88 L595.50,81.59 L596.81,81.32 L598.12,81.04 L599.43,80.77 L600.74,80.50 L602.05,80.23 L603.36,79.97 L604.67,79.71 L605.98,79.45 L607.29,79.19 L608.60,78.94 L609.91,78.69 L611.22,78.44 L612.53,78.20 L613.84,77.95 L615.15,77.71 L616.46,77.48 L617.77,77.24 L619.09,77.01 L620.40,76.78 L621.71,76.56 L623.02,76.33 L624.33,76.11 L625.64,75.89 L626.95,75.67 L628.26,75.46 L629.57,75.25 L630.88,75.04 L632.19,74.83 L633.50,74.63 L634.81,74.43 L636.12,74.23 L637.43,74.03 L638.74,73.83 L640.05,73.64 L641.36,73.45 L642.67,73.26 L643.98,73.07 L645.30,72.89 L646.61,72.71 L647.92,72.53 L649.23,72.35 L650.54,72.17 L651.85,72.00 L653.16,71.82 L654.47,71.65 L655.78,71.49 L657.09,71.32 L658.40,71.16" fill="none" stroke="#111" stroke-width="1.65"/>
<path d="M396.30,163.32 L397.61,162.74 L398.92,162.16 L400.23,161.56 L401.54,160.96 L402.85,160.34 L404.16,159.72 L405.47,159.10 L406.78,158.46 L408.09,157.82 L409.41,157.18 L410.72,156.52 L412.03,155.87 L413.34,155.21 L414.65,154.54 L415.96,153.88 L417.27,153.20 L418.58,152.53 L419.89,151.85 L421.20,151.17 L422.51,150.49 L423.82,149.81 L425.13,149.13 L426.44,148.44 L427.75,147.76 L429.06,147.07 L430.37,146.39 L431.68,145.70 L432.99,145.02 L434.30,144.33 L435.62,143.65 L436.93,142.97 L438.24,142.29 L439.55,141.61 L440.86,140.94 L442.17,140.27 L443.48,139.60 L444.79,138.93 L446.10,138.26 L447.41,137.60 L448.72,136.94 L450.03,136.29 L451.34,135.63 L452.65,134.99 L453.96,134.34 L455.27,133.70 L456.58,133.06 L457.89,132.43 L459.20,131.80 L460.51,131.18 L461.83,130.56 L463.14,129.94 L464.45,129.33 L465.76,128.72 L467.07,128.12 L468.38,127.52 L469.69,126.93 L471.00,126.34 L472.31,125.76 L473.62,125.18 L474.93,124.61 L476.24,124.04 L477.55,123.48 L478.86,122.92 L480.17,122.37 L481.48,121.82 L482.79,121.28 L484.10,120.74 L485.41,120.20 L486.72,119.68 L488.04,119.15 L489.35,118.64 L490.66,118.12 L491.97,117.62 L493.28,117.11 L494.59,116.61 L495.90,116.12 L497.21,115.63 L498.52,115.15 L499.83,114.67 L501.14,114.20 L502.45,113.73 L503.76,113.27 L505.07,112.81 L506.38,112.36 L507.69,111.91 L509.00,111.46 L510.31,111.02 L511.62,110.59 L512.93,110.16 L514.25,109.73 L515.56,109.31 L516.87,108.89 L518.18,108.48 L519.49,108.08 L520.80,107.67 L522.11,107.27 L523.42,106.88 L524.73,106.49 L526.04,106.10 L527.35,105.72 L528.66,105.34 L529.97,104.97 L531.28,104.60 L532.59,104.24 L533.90,103.88 L535.21,103.52 L536.52,103.17 L537.83,102.82 L539.14,102.47 L540.46,102.13 L541.77,101.79 L543.08,101.46 L544.39,101.13 L545.70,100.80 L547.01,100.48 L548.32,100.16 L549.63,99.84 L550.94,99.53 L552.25,99.22 L553.56,98.92 L554.87,98.61 L556.18,98.31 L557.49,98.02 L558.80,97.73 L560.11,97.44 L561.42,97.15 L562.73,96.87 L564.04,96.59 L565.35,96.31 L566.66,96.04 L567.98,95.77 L569.29,95.50 L570.60,95.24 L571.91,94.98 L573.22,94.72 L574.53,94.46 L575.84,94.21 L577.15,93.96 L578.46,93.71 L579.77,93.47 L581.08,93.22 L582.39,92.99 L583.70,92.75 L585.01,92.51 L586.32,92.28 L587.63,92.05 L588.94,91.83 L590.25,91.60 L591.56,91.38 L592.88,91.16 L594.19,90.94 L595.50,90.73 L596.81,90.52 L598.12,90.31 L599.43,90.10 L600.74,89.89 L602.05,89.69 L603.36,89.49 L604.67,89.29 L605.98,89.09 L607.29,88.89 L608.60,88.70 L609.91,88.51 L611.22,88.32 L612.53,88.13 L613.84,87.95 L615.15,87.77 L616.46,87.58 L617.77,87.40 L619.09,87.23 L620.40,87.05 L621.71,86.88 L623.02,86.71 L624.33,86.53 L625.64,86.37 L626.95,86.20 L628.26,86.03 L629.57,85.87 L630.88,85.71 L632.19,85.55 L633.50,85.39 L634.81,85.23 L636.12,85.08 L637.43,84.92 L638.74,84.77 L640.05,84.62 L641.36,84.47 L642.67,84.32 L643.98,84.18 L645.30,84.03 L646.61,83.89 L647.92,83.75 L649.23,83.61 L650.54,83.47 L651.85,83.33 L653.16,83.19 L654.47,83.06 L655.78,82.92 L657.09,82.79 L658.40,82.66" fill="none" stroke="#111" stroke-width="1.65"/>
<rect x="25.5" y="218.5" width="22.5" height="16" fill="#fff" stroke="#a5a5a5" stroke-width="3"/>
<rect x="27" y="224" width="19.5" height="4.3" fill="#ff0000"/>
<rect x="25.5" y="244.8" width="22.5" height="16" fill="#fff" stroke="#a5a5a5" stroke-width="3"/>
<rect x="27" y="250.9" width="19.5" height="4.3" fill="#00ffff"/>
<rect x="336.5" y="218.5" width="23.5" height="16" fill="#0000ff" stroke="#a5a5a5" stroke-width="3"/>
<rect x="336.5" y="245" width="23.5" height="16" fill="#ffa500" stroke="#a5a5a5" stroke-width="3"/>
<rect x="202.5" y="270.5" width="23.5" height="16" fill="#fff" stroke="#a5a5a5" stroke-width="3"/>
<rect x="204" y="277.2" width="20.5" height="3.8" fill="#000"/>
<line x1="165" y1="220.5" x2="207.9" y2="220.5" stroke="#3c3c3c" stroke-width="1"/>
<line x1="179.2" y1="246.9" x2="234.1" y2="246.9" stroke="#3c3c3c" stroke-width="1"/>
<g style="filter:grayscale(1)">
<g transform="translate(0.30,12.0) scale(0.9944,1)"><text x="0" y="0" font-family="Liberation Sans" font-size="15.8">a NEMA PET Phantom</text></g>
<g transform="translate(343.02,12.0) scale(0.9785,1)"><text x="0" y="0" font-family="Liberation Sans" font-size="15.8">b NEMA SPECT Phantom</text></g>
<text x="12.40" y="22.7" font-family="Liberation Sans" font-size="12.6">1.2</text>
<text x="12.40" y="49.0" font-family="Liberation Sans" font-size="12.6">1.0</text>
<text x="12.40" y="75.5" font-family="Liberation Sans" font-size="12.6">0.8</text>
<text x="12.40" y="101.8" font-family="Liberation Sans" font-size="12.6">0.6</text>
<text x="12.40" y="128.8" font-family="Liberation Sans" font-size="12.6">0.4</text>
<text x="12.40" y="154.8" font-family="Liberation Sans" font-size="12.6">0.2</text>
<text x="12.40" y="183.4" font-family="Liberation Sans" font-size="12.6">0.0</text>
<text x="358.60" y="22.7" font-family="Liberation Sans" font-size="12.6">1.2</text>
<text x="358.60" y="49.0" font-family="Liberation Sans" font-size="12.6">1.0</text>
<text x="358.60" y="75.5" font-family="Liberation Sans" font-size="12.6">0.8</text>
<text x="358.60" y="101.8" font-family="Liberation Sans" font-size="12.6">0.6</text>
<text x="358.60" y="128.8" font-family="Liberation Sans" font-size="12.6">0.4</text>
<text x="358.60" y="154.8" font-family="Liberation Sans" font-size="12.6">0.2</text>
<text x="358.60" y="183.4" font-family="Liberation Sans" font-size="12.6">0.0</text>
<text x="41.80" y="189.9" font-family="Liberation Sans" font-size="12.6">10</text>
<text x="94.82" y="189.9" font-family="Liberation Sans" font-size="12.6">20</text>
<text x="147.34" y="189.9" font-family="Liberation Sans" font-size="12.6">30</text>
<text x="199.86" y="189.9" font-family="Liberation Sans" font-size="12.6">40</text>
<text x="252.38" y="189.9" font-family="Liberation Sans" font-size="12.6">50</text>
<text x="304.90" y="189.9" font-family="Liberation Sans" font-size="12.6">60</text>
<text x="388.40" y="189.9" font-family="Liberation Sans" font-size="12.6">10</text>
<text x="441.32" y="189.9" font-family="Liberation Sans" font-size="12.6">20</text>
<text x="493.74" y="189.9" font-family="Liberation Sans" font-size="12.6">30</text>
<text x="546.16" y="189.9" font-family="Liberation Sans" font-size="12.6">40</text>
<text x="598.58" y="189.9" font-family="Liberation Sans" font-size="12.6">50</text>
<text x="651.00" y="189.9" font-family="Liberation Sans" font-size="12.6">60</text>
<g transform="translate(125.90,205.9) scale(0.9780,1)"><text x="0" y="0" font-family="Liberation Sans" font-size="12.8">Sphere diameter in mm</text></g>
<g transform="translate(464.90,206.1) scale(0.9712,1)"><text x="0" y="0" font-family="Liberation Sans" font-size="12.8">Sphere diameter in mm</text></g>
<g transform="translate(9.4,154.36) rotate(-90) scale(1.0573,1)"><text x="0" y="0" font-family="Liberation Sans" font-size="11.6">Recovery coefficient</text></g>
<g transform="translate(355.9,154.46) rotate(-90) scale(1.0583,1)"><text x="0" y="0" font-family="Liberation Sans" font-size="11.6">Recovery coefficient</text></g>
<g transform="translate(53.85,231.1) scale(0.9481,1)"><text x="0" y="0" font-family="Liberation Sans" font-size="12.4">Mean fit OSEM_<tspan font-style="italic">RR</tspan></text></g>
<text x="161.10" y="231.1" font-family="Liberation Sans" font-size="12.4">(</text>
<text x="165.90" y="231.7" font-family="Liberation Serif" font-size="13.0"><tspan font-style="italic">f</tspan></text>
<g transform="translate(173.00,231.7) scale(0.7571,1)"><text x="0" y="0" font-family="Liberation Serif" font-size="12.6"><tspan font-style="italic">_</tspan></text></g>
<g transform="translate(178.70,231.7) scale(0.8824,1)"><text x="0" y="0" font-family="Liberation Serif" font-size="12.6"><tspan font-style="italic">RC</tspan></text></g>
<g transform="translate(194.60,234.4) scale(1.0545,1)"><text x="0" y="0" font-family="Liberation Serif" font-size="9.0"><tspan font-style="italic">RR</tspan></text></g>
<text x="207.50" y="231.1" font-family="Liberation Sans" font-size="12.4">)</text>
<g transform="translate(53.85,257.7) scale(0.9525,1)"><text x="0" y="0" font-family="Liberation Sans" font-size="12.4">Mean fit OSEM_<tspan font-style="italic">noRR</tspan></text></g>
<text x="174.75" y="257.7" font-family="Liberation Sans" font-size="12.4">(</text>
<text x="180.40" y="258.3" font-family="Liberation Serif" font-size="13.0"><tspan font-style="italic">f</tspan></text>
<g transform="translate(187.60,258.3) scale(0.6857,1)"><text x="0" y="0" font-family="Liberation Serif" font-size="12.6"><tspan font-style="italic">_</tspan></text></g>
<g transform="translate(192.80,258.3) scale(0.8824,1)"><text x="0" y="0" font-family="Liberation Serif" font-size="12.6"><tspan font-style="italic">RC</tspan></text></g>
<g transform="translate(208.50,261.0) scale(1.2250,1)"><text x="0" y="0" font-family="Liberation Serif" font-size="9.0"><tspan font-style="italic">noRR</tspan></text></g>
<text x="234.10" y="257.7" font-family="Liberation Sans" font-size="12.4">)</text>
<g transform="translate(364.82,231.1) scale(0.9794,1)"><text x="0" y="0" font-family="Liberation Sans" font-size="12.4">Mean fit ± standard deviation OSEM_<tspan font-style="italic">RR</tspan></text></g>
<text x="588.20" y="231.1" font-family="Liberation Sans" font-size="12.4">(</text>
<text x="592.50" y="231.7" font-family="Liberation Serif" font-size="13.0"><tspan font-style="italic">σ</tspan></text>
<g transform="translate(600.00,231.7) scale(0.8429,1)"><text x="0" y="0" font-family="Liberation Serif" font-size="12.6"><tspan font-style="italic">_</tspan></text></g>
<g transform="translate(606.20,231.7) scale(0.8941,1)"><text x="0" y="0" font-family="Liberation Serif" font-size="12.6"><tspan font-style="italic">RC</tspan></text></g>
<g transform="translate(622.00,234.4) scale(1.1273,1)"><text x="0" y="0" font-family="Liberation Serif" font-size="9.0"><tspan font-style="italic">RR</tspan></text></g>
<text x="635.35" y="231.1" font-family="Liberation Sans" font-size="12.4">)</text>
<g transform="translate(364.81,257.7) scale(0.9860,1)"><text x="0" y="0" font-family="Liberation Sans" font-size="12.4">Mean fit ± standard deviation OSEM_<tspan font-style="italic">noRR</tspan></text></g>
<text x="602.45" y="257.7" font-family="Liberation Sans" font-size="12.4">(</text>
<text x="607.00" y="258.3" font-family="Liberation Serif" font-size="13.0"><tspan font-style="italic">σ</tspan></text>
<g transform="translate(614.50,258.3) scale(0.8143,1)"><text x="0" y="0" font-family="Liberation Serif" font-size="12.6"><tspan font-style="italic">_</tspan></text></g>
<g transform="translate(620.60,258.3) scale(0.8471,1)"><text x="0" y="0" font-family="Liberation Serif" font-size="12.6"><tspan font-style="italic">RC</tspan></text></g>
<g transform="translate(636.70,261.0) scale(1.1800,1)"><text x="0" y="0" font-family="Liberation Serif" font-size="9.0"><tspan font-style="italic">noRR</tspan></text></g>
<text x="661.25" y="257.7" font-family="Liberation Sans" font-size="12.4">)</text>
<g transform="translate(230.92,283.4) scale(0.9835,1)"><text x="0" y="0" font-family="Liberation Sans" font-size="12.4">Minimum/maximum fit OSEM_<tspan font-style="italic">RR</tspan>/ OSEM_<tspan font-style="italic">noRR</tspan></text></g>
</g>
</svg>
</body></html>
